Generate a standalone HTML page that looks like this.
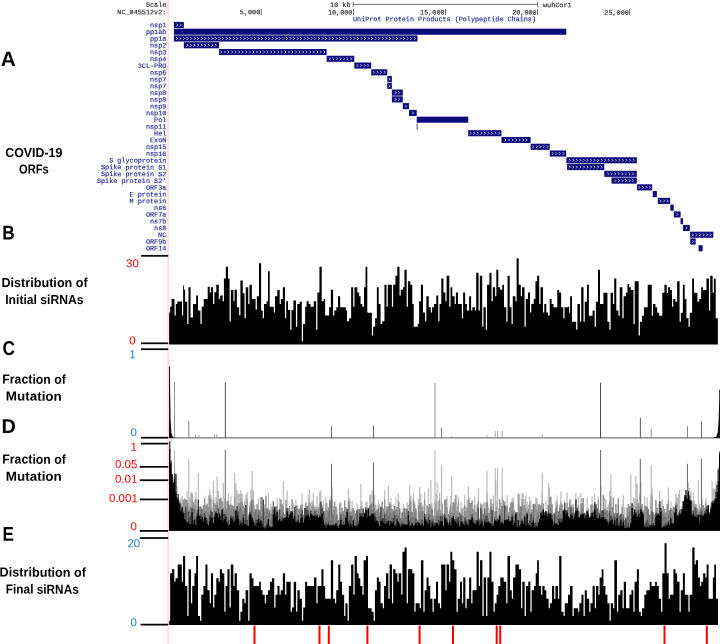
<!DOCTYPE html>
<html lang="en"><head><meta charset="utf-8"><title>COVID-19 siRNA figure</title>
<style>html,body{margin:0;padding:0;background:#fff}body{width:720px;height:644px;overflow:hidden}svg{display:block}.lb{font-family:"Liberation Sans",sans-serif;font-weight:bold;fill:#000}.nm{font-family:"Liberation Sans",sans-serif;font-weight:normal}.mono{font-family:"Liberation Mono",monospace;stroke-width:0.12}</style></head><body>
<svg width="720" height="644" viewBox="0 0 720 644">
<rect width="720" height="644" fill="#fff"/>
<rect x="167.5" y="0" width="1.2" height="644" fill="#ffd0d6"/>
<text transform="matrix(1,0.001,0,1,0,0)" x="166.3" y="6.6" class="mono" font-size="6.8" fill="#222" stroke="#222" stroke-width="0.1" text-anchor="end">Scale</text>
<text transform="matrix(1,0.001,0,1,0,0)" x="166.3" y="14.1" class="mono" font-size="6.8" fill="#222" stroke="#222" stroke-width="0.1" text-anchor="end">NC_045512v2:</text>
<text transform="matrix(1,0.001,0,1,0,0)" x="350.5" y="6.6" class="mono" font-size="6.8" fill="#222" stroke="#222" stroke-width="0.1" text-anchor="end">10 kb</text>
<path d="M353.2 4.4H537.6M353.2 1.8V7.2M537.6 1.8V7.2" stroke="#333" stroke-width="0.7" fill="none"/>
<text transform="matrix(1,0.001,0,1,0,0)" x="543.0" y="6.6" class="mono" font-size="6.8" fill="#222" stroke="#222" stroke-width="0.1">wuhCor1</text>
<text transform="matrix(1,0.001,0,1,0,0)" x="260.25" y="14.1" class="mono" font-size="6.8" fill="#222" stroke="#222" stroke-width="0.1" text-anchor="end">5,000</text>
<rect x="260.80" y="9.0" width="0.7" height="6.2" fill="#333"/>
<text transform="matrix(1,0.001,0,1,0,0)" x="352.4" y="14.1" class="mono" font-size="6.8" fill="#222" stroke="#222" stroke-width="0.1" text-anchor="end">10,000</text>
<rect x="352.95" y="9.0" width="0.7" height="6.2" fill="#333"/>
<text transform="matrix(1,0.001,0,1,0,0)" x="444.55" y="14.1" class="mono" font-size="6.8" fill="#222" stroke="#222" stroke-width="0.1" text-anchor="end">15,000</text>
<rect x="445.10" y="9.0" width="0.7" height="6.2" fill="#333"/>
<text transform="matrix(1,0.001,0,1,0,0)" x="536.6999999999999" y="14.1" class="mono" font-size="6.8" fill="#222" stroke="#222" stroke-width="0.1" text-anchor="end">20,000</text>
<rect x="537.25" y="9.0" width="0.7" height="6.2" fill="#333"/>
<text transform="matrix(1,0.001,0,1,0,0)" x="628.85" y="14.1" class="mono" font-size="6.8" fill="#222" stroke="#222" stroke-width="0.1" text-anchor="end">25,000</text>
<rect x="629.40" y="9.0" width="0.7" height="6.2" fill="#333"/>
<text transform="matrix(1,0.001,0,1,0,0)" x="353" y="20.8" class="mono" font-size="6.8" fill="#1a1a92" stroke="#1a1a92" textLength="183" lengthAdjust="spacingAndGlyphs">UniProt Protein Products (Polypeptide Chains)</text>
<defs><pattern id="chev" width="3.7" height="6" patternUnits="userSpaceOnUse" x="170.4" y="0"><path d="M1 -1.35L2.3 0L1 1.35" transform="translate(0,3)" stroke="#c8c8ee" stroke-width="0.75" fill="none"/></pattern></defs>
<text transform="matrix(1,0.001,0,1,0,0)" x="166.3" y="27.15" class="mono" font-size="6.8" fill="#1a1a92" stroke="#1a1a92" text-anchor="end">nsp1</text>
<rect x="173.90" y="21.90" width="9.93" height="6.1" fill="#0c0c7c"/>
<path d="M176.42 23.60l1.3 1.35l-1.3 1.35M179.97 23.60l1.3 1.35l-1.3 1.35" stroke="#dcdcf6" stroke-width="0.85" fill="none"/>
<text transform="matrix(1,0.001,0,1,0,0)" x="166.3" y="33.92" class="mono" font-size="6.8" fill="#1a1a92" stroke="#1a1a92" text-anchor="end">pp1ab</text>
<rect x="173.90" y="28.67" width="392.36" height="6.1" fill="#0c0c7c"/>
<text transform="matrix(1,0.001,0,1,0,0)" x="166.3" y="40.68" class="mono" font-size="6.8" fill="#1a1a92" stroke="#1a1a92" text-anchor="end">pp1a</text>
<rect x="173.90" y="35.43" width="243.59" height="6.1" fill="#0c0c7c"/>
<path d="M176.10 37.13l1.3 1.35l-1.3 1.35M179.65 37.13l1.3 1.35l-1.3 1.35M183.20 37.13l1.3 1.35l-1.3 1.35M186.75 37.13l1.3 1.35l-1.3 1.35M190.30 37.13l1.3 1.35l-1.3 1.35M193.85 37.13l1.3 1.35l-1.3 1.35M197.40 37.13l1.3 1.35l-1.3 1.35M200.95 37.13l1.3 1.35l-1.3 1.35M204.50 37.13l1.3 1.35l-1.3 1.35M208.05 37.13l1.3 1.35l-1.3 1.35M211.60 37.13l1.3 1.35l-1.3 1.35M215.15 37.13l1.3 1.35l-1.3 1.35M218.70 37.13l1.3 1.35l-1.3 1.35M222.25 37.13l1.3 1.35l-1.3 1.35M225.80 37.13l1.3 1.35l-1.3 1.35M229.35 37.13l1.3 1.35l-1.3 1.35M232.90 37.13l1.3 1.35l-1.3 1.35M236.45 37.13l1.3 1.35l-1.3 1.35M240.00 37.13l1.3 1.35l-1.3 1.35M243.55 37.13l1.3 1.35l-1.3 1.35M247.10 37.13l1.3 1.35l-1.3 1.35M250.65 37.13l1.3 1.35l-1.3 1.35M254.20 37.13l1.3 1.35l-1.3 1.35M257.75 37.13l1.3 1.35l-1.3 1.35M261.30 37.13l1.3 1.35l-1.3 1.35M264.85 37.13l1.3 1.35l-1.3 1.35M268.40 37.13l1.3 1.35l-1.3 1.35M271.95 37.13l1.3 1.35l-1.3 1.35M275.50 37.13l1.3 1.35l-1.3 1.35M279.05 37.13l1.3 1.35l-1.3 1.35M282.60 37.13l1.3 1.35l-1.3 1.35M286.15 37.13l1.3 1.35l-1.3 1.35M289.70 37.13l1.3 1.35l-1.3 1.35M293.25 37.13l1.3 1.35l-1.3 1.35M296.80 37.13l1.3 1.35l-1.3 1.35M300.35 37.13l1.3 1.35l-1.3 1.35M303.90 37.13l1.3 1.35l-1.3 1.35M307.45 37.13l1.3 1.35l-1.3 1.35M311.00 37.13l1.3 1.35l-1.3 1.35M314.55 37.13l1.3 1.35l-1.3 1.35M318.10 37.13l1.3 1.35l-1.3 1.35M321.65 37.13l1.3 1.35l-1.3 1.35M325.20 37.13l1.3 1.35l-1.3 1.35M328.75 37.13l1.3 1.35l-1.3 1.35M332.30 37.13l1.3 1.35l-1.3 1.35M335.85 37.13l1.3 1.35l-1.3 1.35M339.40 37.13l1.3 1.35l-1.3 1.35M342.95 37.13l1.3 1.35l-1.3 1.35M346.50 37.13l1.3 1.35l-1.3 1.35M350.05 37.13l1.3 1.35l-1.3 1.35M353.60 37.13l1.3 1.35l-1.3 1.35M357.15 37.13l1.3 1.35l-1.3 1.35M360.70 37.13l1.3 1.35l-1.3 1.35M364.25 37.13l1.3 1.35l-1.3 1.35M367.80 37.13l1.3 1.35l-1.3 1.35M371.35 37.13l1.3 1.35l-1.3 1.35M374.90 37.13l1.3 1.35l-1.3 1.35M378.45 37.13l1.3 1.35l-1.3 1.35M382.00 37.13l1.3 1.35l-1.3 1.35M385.55 37.13l1.3 1.35l-1.3 1.35M389.10 37.13l1.3 1.35l-1.3 1.35M392.65 37.13l1.3 1.35l-1.3 1.35M396.20 37.13l1.3 1.35l-1.3 1.35M399.75 37.13l1.3 1.35l-1.3 1.35M403.30 37.13l1.3 1.35l-1.3 1.35M406.85 37.13l1.3 1.35l-1.3 1.35M410.40 37.13l1.3 1.35l-1.3 1.35M413.95 37.13l1.3 1.35l-1.3 1.35" stroke="#dcdcf6" stroke-width="0.85" fill="none"/>
<text transform="matrix(1,0.001,0,1,0,0)" x="166.3" y="47.45" class="mono" font-size="6.8" fill="#1a1a92" stroke="#1a1a92" text-anchor="end">nsp2</text>
<rect x="183.85" y="42.20" width="35.26" height="6.1" fill="#0c0c7c"/>
<path d="M186.61 43.90l1.3 1.35l-1.3 1.35M190.16 43.90l1.3 1.35l-1.3 1.35M193.71 43.90l1.3 1.35l-1.3 1.35M197.26 43.90l1.3 1.35l-1.3 1.35M200.81 43.90l1.3 1.35l-1.3 1.35M204.36 43.90l1.3 1.35l-1.3 1.35M207.91 43.90l1.3 1.35l-1.3 1.35M211.46 43.90l1.3 1.35l-1.3 1.35M215.01 43.90l1.3 1.35l-1.3 1.35" stroke="#dcdcf6" stroke-width="0.85" fill="none"/>
<text transform="matrix(1,0.001,0,1,0,0)" x="166.3" y="54.22" class="mono" font-size="6.8" fill="#1a1a92" stroke="#1a1a92" text-anchor="end">nsp3</text>
<rect x="219.13" y="48.97" width="107.52" height="6.1" fill="#0c0c7c"/>
<path d="M220.74 50.67l1.3 1.35l-1.3 1.35M224.29 50.67l1.3 1.35l-1.3 1.35M227.84 50.67l1.3 1.35l-1.3 1.35M231.39 50.67l1.3 1.35l-1.3 1.35M234.94 50.67l1.3 1.35l-1.3 1.35M238.49 50.67l1.3 1.35l-1.3 1.35M242.04 50.67l1.3 1.35l-1.3 1.35M245.59 50.67l1.3 1.35l-1.3 1.35M249.14 50.67l1.3 1.35l-1.3 1.35M252.69 50.67l1.3 1.35l-1.3 1.35M256.24 50.67l1.3 1.35l-1.3 1.35M259.79 50.67l1.3 1.35l-1.3 1.35M263.34 50.67l1.3 1.35l-1.3 1.35M266.89 50.67l1.3 1.35l-1.3 1.35M270.44 50.67l1.3 1.35l-1.3 1.35M273.99 50.67l1.3 1.35l-1.3 1.35M277.54 50.67l1.3 1.35l-1.3 1.35M281.09 50.67l1.3 1.35l-1.3 1.35M284.64 50.67l1.3 1.35l-1.3 1.35M288.19 50.67l1.3 1.35l-1.3 1.35M291.74 50.67l1.3 1.35l-1.3 1.35M295.29 50.67l1.3 1.35l-1.3 1.35M298.84 50.67l1.3 1.35l-1.3 1.35M302.39 50.67l1.3 1.35l-1.3 1.35M305.94 50.67l1.3 1.35l-1.3 1.35M309.49 50.67l1.3 1.35l-1.3 1.35M313.04 50.67l1.3 1.35l-1.3 1.35M316.59 50.67l1.3 1.35l-1.3 1.35M320.14 50.67l1.3 1.35l-1.3 1.35M323.69 50.67l1.3 1.35l-1.3 1.35" stroke="#dcdcf6" stroke-width="0.85" fill="none"/>
<text transform="matrix(1,0.001,0,1,0,0)" x="166.3" y="60.98" class="mono" font-size="6.8" fill="#1a1a92" stroke="#1a1a92" text-anchor="end">nsp4</text>
<rect x="326.67" y="55.73" width="27.63" height="6.1" fill="#0c0c7c"/>
<path d="M329.16 57.43l1.3 1.35l-1.3 1.35M332.71 57.43l1.3 1.35l-1.3 1.35M336.26 57.43l1.3 1.35l-1.3 1.35M339.81 57.43l1.3 1.35l-1.3 1.35M343.36 57.43l1.3 1.35l-1.3 1.35M346.91 57.43l1.3 1.35l-1.3 1.35M350.46 57.43l1.3 1.35l-1.3 1.35" stroke="#dcdcf6" stroke-width="0.85" fill="none"/>
<text transform="matrix(1,0.001,0,1,0,0)" x="166.3" y="67.75" class="mono" font-size="6.8" fill="#1a1a92" stroke="#1a1a92" text-anchor="end">3CL-PRO</text>
<rect x="354.31" y="62.50" width="16.90" height="6.1" fill="#0c0c7c"/>
<path d="M356.76 64.20l1.3 1.35l-1.3 1.35M360.31 64.20l1.3 1.35l-1.3 1.35M363.86 64.20l1.3 1.35l-1.3 1.35M367.41 64.20l1.3 1.35l-1.3 1.35" stroke="#dcdcf6" stroke-width="0.85" fill="none"/>
<text transform="matrix(1,0.001,0,1,0,0)" x="166.3" y="74.52" class="mono" font-size="6.8" fill="#1a1a92" stroke="#1a1a92" text-anchor="end">nsp6</text>
<rect x="371.23" y="69.27" width="16.02" height="6.1" fill="#0c0c7c"/>
<path d="M373.24 70.97l1.3 1.35l-1.3 1.35M376.79 70.97l1.3 1.35l-1.3 1.35M380.34 70.97l1.3 1.35l-1.3 1.35M383.89 70.97l1.3 1.35l-1.3 1.35" stroke="#dcdcf6" stroke-width="0.85" fill="none"/>
<text transform="matrix(1,0.001,0,1,0,0)" x="166.3" y="81.29" class="mono" font-size="6.8" fill="#1a1a92" stroke="#1a1a92" text-anchor="end">nsp7</text>
<rect x="387.27" y="76.04" width="4.57" height="6.1" fill="#0c0c7c"/>
<path d="M388.88 77.74l1.3 1.35l-1.3 1.35" stroke="#dcdcf6" stroke-width="0.85" fill="none"/>
<text transform="matrix(1,0.001,0,1,0,0)" x="166.3" y="88.05" class="mono" font-size="6.8" fill="#1a1a92" stroke="#1a1a92" text-anchor="end">nsp7</text>
<rect x="387.27" y="82.80" width="4.57" height="6.1" fill="#0c0c7c"/>
<path d="M388.88 84.50l1.3 1.35l-1.3 1.35" stroke="#dcdcf6" stroke-width="0.85" fill="none"/>
<text transform="matrix(1,0.001,0,1,0,0)" x="166.3" y="94.82" class="mono" font-size="6.8" fill="#1a1a92" stroke="#1a1a92" text-anchor="end">nsp8</text>
<rect x="391.86" y="89.57" width="10.93" height="6.1" fill="#0c0c7c"/>
<path d="M394.87 91.27l1.3 1.35l-1.3 1.35M398.42 91.27l1.3 1.35l-1.3 1.35" stroke="#dcdcf6" stroke-width="0.85" fill="none"/>
<text transform="matrix(1,0.001,0,1,0,0)" x="166.3" y="101.59" class="mono" font-size="6.8" fill="#1a1a92" stroke="#1a1a92" text-anchor="end">nsp8</text>
<rect x="391.86" y="96.34" width="10.93" height="6.1" fill="#0c0c7c"/>
<path d="M394.87 98.04l1.3 1.35l-1.3 1.35M398.42 98.04l1.3 1.35l-1.3 1.35" stroke="#dcdcf6" stroke-width="0.85" fill="none"/>
<text transform="matrix(1,0.001,0,1,0,0)" x="166.3" y="108.35" class="mono" font-size="6.8" fill="#1a1a92" stroke="#1a1a92" text-anchor="end">nsp9</text>
<rect x="402.80" y="103.10" width="6.23" height="6.1" fill="#0c0c7c"/>
<path d="M405.24 104.80l1.3 1.35l-1.3 1.35" stroke="#dcdcf6" stroke-width="0.85" fill="none"/>
<text transform="matrix(1,0.001,0,1,0,0)" x="166.3" y="115.12" class="mono" font-size="6.8" fill="#1a1a92" stroke="#1a1a92" text-anchor="end">nsp10</text>
<rect x="409.05" y="109.87" width="7.67" height="6.1" fill="#0c0c7c"/>
<path d="M412.21 111.57l1.3 1.35l-1.3 1.35" stroke="#dcdcf6" stroke-width="0.85" fill="none"/>
<text transform="matrix(1,0.001,0,1,0,0)" x="166.3" y="121.89" class="mono" font-size="6.8" fill="#1a1a92" stroke="#1a1a92" text-anchor="end">Pol</text>
<rect x="416.74" y="116.64" width="51.49" height="6.1" fill="#0c0c7c"/>
<text transform="matrix(1,0.001,0,1,0,0)" x="166.3" y="128.66" class="mono" font-size="6.8" fill="#1a1a92" stroke="#1a1a92" text-anchor="end">nsp11</text>
<rect x="416.74" y="123.41" width="0.80" height="6.1" fill="#0c0c7c"/>
<text transform="matrix(1,0.001,0,1,0,0)" x="166.3" y="135.42" class="mono" font-size="6.8" fill="#1a1a92" stroke="#1a1a92" text-anchor="end">Hel</text>
<rect x="468.25" y="130.17" width="33.21" height="6.1" fill="#0c0c7c"/>
<path d="M469.98 131.87l1.3 1.35l-1.3 1.35M473.53 131.87l1.3 1.35l-1.3 1.35M477.08 131.87l1.3 1.35l-1.3 1.35M480.63 131.87l1.3 1.35l-1.3 1.35M484.18 131.87l1.3 1.35l-1.3 1.35M487.73 131.87l1.3 1.35l-1.3 1.35M491.28 131.87l1.3 1.35l-1.3 1.35M494.83 131.87l1.3 1.35l-1.3 1.35M498.38 131.87l1.3 1.35l-1.3 1.35" stroke="#dcdcf6" stroke-width="0.85" fill="none"/>
<text transform="matrix(1,0.001,0,1,0,0)" x="166.3" y="142.19" class="mono" font-size="6.8" fill="#1a1a92" stroke="#1a1a92" text-anchor="end">ExoN</text>
<rect x="501.48" y="136.94" width="29.12" height="6.1" fill="#0c0c7c"/>
<path d="M504.71 138.64l1.3 1.35l-1.3 1.35M508.26 138.64l1.3 1.35l-1.3 1.35M511.81 138.64l1.3 1.35l-1.3 1.35M515.36 138.64l1.3 1.35l-1.3 1.35M518.91 138.64l1.3 1.35l-1.3 1.35M522.46 138.64l1.3 1.35l-1.3 1.35M526.01 138.64l1.3 1.35l-1.3 1.35" stroke="#dcdcf6" stroke-width="0.85" fill="none"/>
<text transform="matrix(1,0.001,0,1,0,0)" x="166.3" y="148.96" class="mono" font-size="6.8" fill="#1a1a92" stroke="#1a1a92" text-anchor="end">nsp15</text>
<rect x="530.62" y="143.71" width="19.11" height="6.1" fill="#0c0c7c"/>
<path d="M532.40 145.41l1.3 1.35l-1.3 1.35M535.95 145.41l1.3 1.35l-1.3 1.35M539.50 145.41l1.3 1.35l-1.3 1.35M543.05 145.41l1.3 1.35l-1.3 1.35M546.60 145.41l1.3 1.35l-1.3 1.35" stroke="#dcdcf6" stroke-width="0.85" fill="none"/>
<text transform="matrix(1,0.001,0,1,0,0)" x="166.3" y="155.72" class="mono" font-size="6.8" fill="#1a1a92" stroke="#1a1a92" text-anchor="end">nsp16</text>
<rect x="549.75" y="150.47" width="16.46" height="6.1" fill="#0c0c7c"/>
<path d="M551.97 152.17l1.3 1.35l-1.3 1.35M555.52 152.17l1.3 1.35l-1.3 1.35M559.07 152.17l1.3 1.35l-1.3 1.35M562.62 152.17l1.3 1.35l-1.3 1.35" stroke="#dcdcf6" stroke-width="0.85" fill="none"/>
<text transform="matrix(1,0.001,0,1,0,0)" x="166.3" y="162.49" class="mono" font-size="6.8" fill="#1a1a92" stroke="#1a1a92" text-anchor="end">S glycoprotein</text>
<rect x="566.41" y="157.24" width="70.42" height="6.1" fill="#0c0c7c"/>
<path d="M568.99 158.94l1.3 1.35l-1.3 1.35M572.54 158.94l1.3 1.35l-1.3 1.35M576.09 158.94l1.3 1.35l-1.3 1.35M579.64 158.94l1.3 1.35l-1.3 1.35M583.19 158.94l1.3 1.35l-1.3 1.35M586.74 158.94l1.3 1.35l-1.3 1.35M590.29 158.94l1.3 1.35l-1.3 1.35M593.84 158.94l1.3 1.35l-1.3 1.35M597.39 158.94l1.3 1.35l-1.3 1.35M600.94 158.94l1.3 1.35l-1.3 1.35M604.49 158.94l1.3 1.35l-1.3 1.35M608.04 158.94l1.3 1.35l-1.3 1.35M611.59 158.94l1.3 1.35l-1.3 1.35M615.14 158.94l1.3 1.35l-1.3 1.35M618.69 158.94l1.3 1.35l-1.3 1.35M622.24 158.94l1.3 1.35l-1.3 1.35M625.79 158.94l1.3 1.35l-1.3 1.35M629.34 158.94l1.3 1.35l-1.3 1.35M632.89 158.94l1.3 1.35l-1.3 1.35" stroke="#dcdcf6" stroke-width="0.85" fill="none"/>
<text transform="matrix(1,0.001,0,1,0,0)" x="166.3" y="169.26" class="mono" font-size="6.8" fill="#1a1a92" stroke="#1a1a92" text-anchor="end">Spike protein S1</text>
<rect x="567.07" y="164.01" width="37.19" height="6.1" fill="#0c0c7c"/>
<path d="M569.02 165.71l1.3 1.35l-1.3 1.35M572.57 165.71l1.3 1.35l-1.3 1.35M576.12 165.71l1.3 1.35l-1.3 1.35M579.67 165.71l1.3 1.35l-1.3 1.35M583.22 165.71l1.3 1.35l-1.3 1.35M586.77 165.71l1.3 1.35l-1.3 1.35M590.32 165.71l1.3 1.35l-1.3 1.35M593.87 165.71l1.3 1.35l-1.3 1.35M597.42 165.71l1.3 1.35l-1.3 1.35M600.97 165.71l1.3 1.35l-1.3 1.35" stroke="#dcdcf6" stroke-width="0.85" fill="none"/>
<text transform="matrix(1,0.001,0,1,0,0)" x="166.3" y="176.02" class="mono" font-size="6.8" fill="#1a1a92" stroke="#1a1a92" text-anchor="end">Spike protein S2</text>
<rect x="604.28" y="170.77" width="32.49" height="6.1" fill="#0c0c7c"/>
<path d="M607.43 172.47l1.3 1.35l-1.3 1.35M610.98 172.47l1.3 1.35l-1.3 1.35M614.53 172.47l1.3 1.35l-1.3 1.35M618.08 172.47l1.3 1.35l-1.3 1.35M621.63 172.47l1.3 1.35l-1.3 1.35M625.18 172.47l1.3 1.35l-1.3 1.35M628.73 172.47l1.3 1.35l-1.3 1.35M632.28 172.47l1.3 1.35l-1.3 1.35" stroke="#dcdcf6" stroke-width="0.85" fill="none"/>
<text transform="matrix(1,0.001,0,1,0,0)" x="166.3" y="182.79" class="mono" font-size="6.8" fill="#1a1a92" stroke="#1a1a92" text-anchor="end">Spike protein S2'</text>
<rect x="611.52" y="177.54" width="25.25" height="6.1" fill="#0c0c7c"/>
<path d="M614.60 179.24l1.3 1.35l-1.3 1.35M618.15 179.24l1.3 1.35l-1.3 1.35M621.70 179.24l1.3 1.35l-1.3 1.35M625.25 179.24l1.3 1.35l-1.3 1.35M628.80 179.24l1.3 1.35l-1.3 1.35M632.35 179.24l1.3 1.35l-1.3 1.35" stroke="#dcdcf6" stroke-width="0.85" fill="none"/>
<text transform="matrix(1,0.001,0,1,0,0)" x="166.3" y="189.56" class="mono" font-size="6.8" fill="#1a1a92" stroke="#1a1a92" text-anchor="end">ORF3a</text>
<rect x="636.99" y="184.31" width="15.24" height="6.1" fill="#0c0c7c"/>
<path d="M638.61 186.01l1.3 1.35l-1.3 1.35M642.16 186.01l1.3 1.35l-1.3 1.35M645.71 186.01l1.3 1.35l-1.3 1.35M649.26 186.01l1.3 1.35l-1.3 1.35" stroke="#dcdcf6" stroke-width="0.85" fill="none"/>
<text transform="matrix(1,0.001,0,1,0,0)" x="166.3" y="196.32" class="mono" font-size="6.8" fill="#1a1a92" stroke="#1a1a92" text-anchor="end">E protein</text>
<rect x="652.70" y="191.07" width="4.18" height="6.1" fill="#0c0c7c"/>
<text transform="matrix(1,0.001,0,1,0,0)" x="166.3" y="203.09" class="mono" font-size="6.8" fill="#1a1a92" stroke="#1a1a92" text-anchor="end">M protein</text>
<rect x="657.82" y="197.84" width="12.31" height="6.1" fill="#0c0c7c"/>
<path d="M659.75 199.54l1.3 1.35l-1.3 1.35M663.30 199.54l1.3 1.35l-1.3 1.35M666.85 199.54l1.3 1.35l-1.3 1.35" stroke="#dcdcf6" stroke-width="0.85" fill="none"/>
<text transform="matrix(1,0.001,0,1,0,0)" x="166.3" y="209.86" class="mono" font-size="6.8" fill="#1a1a92" stroke="#1a1a92" text-anchor="end">ns6</text>
<rect x="670.33" y="204.61" width="3.41" height="6.1" fill="#0c0c7c"/>
<text transform="matrix(1,0.001,0,1,0,0)" x="166.3" y="216.63" class="mono" font-size="6.8" fill="#1a1a92" stroke="#1a1a92" text-anchor="end">ORF7a</text>
<rect x="673.87" y="211.38" width="6.73" height="6.1" fill="#0c0c7c"/>
<path d="M676.56 213.08l1.3 1.35l-1.3 1.35" stroke="#dcdcf6" stroke-width="0.85" fill="none"/>
<text transform="matrix(1,0.001,0,1,0,0)" x="166.3" y="223.39" class="mono" font-size="6.8" fill="#1a1a92" stroke="#1a1a92" text-anchor="end">ns7b</text>
<rect x="680.54" y="218.14" width="2.41" height="6.1" fill="#0c0c7c"/>
<text transform="matrix(1,0.001,0,1,0,0)" x="166.3" y="230.16" class="mono" font-size="6.8" fill="#1a1a92" stroke="#1a1a92" text-anchor="end">ns8</text>
<rect x="683.09" y="224.91" width="6.73" height="6.1" fill="#0c0c7c"/>
<path d="M685.77 226.61l1.3 1.35l-1.3 1.35" stroke="#dcdcf6" stroke-width="0.85" fill="none"/>
<text transform="matrix(1,0.001,0,1,0,0)" x="166.3" y="236.93" class="mono" font-size="6.8" fill="#1a1a92" stroke="#1a1a92" text-anchor="end">NC</text>
<rect x="690.09" y="231.68" width="23.20" height="6.1" fill="#0c0c7c"/>
<path d="M692.14 233.38l1.3 1.35l-1.3 1.35M695.69 233.38l1.3 1.35l-1.3 1.35M699.24 233.38l1.3 1.35l-1.3 1.35M702.79 233.38l1.3 1.35l-1.3 1.35M706.34 233.38l1.3 1.35l-1.3 1.35M709.89 233.38l1.3 1.35l-1.3 1.35" stroke="#dcdcf6" stroke-width="0.85" fill="none"/>
<text transform="matrix(1,0.001,0,1,0,0)" x="166.3" y="243.69" class="mono" font-size="6.8" fill="#1a1a92" stroke="#1a1a92" text-anchor="end">ORF9b</text>
<rect x="690.27" y="238.44" width="5.40" height="6.1" fill="#0c0c7c"/>
<path d="M692.30 240.14l1.3 1.35l-1.3 1.35" stroke="#dcdcf6" stroke-width="0.85" fill="none"/>
<text transform="matrix(1,0.001,0,1,0,0)" x="166.3" y="250.46" class="mono" font-size="6.8" fill="#1a1a92" stroke="#1a1a92" text-anchor="end">ORF14</text>
<rect x="698.57" y="245.21" width="4.07" height="6.1" fill="#0c0c7c"/>
<text transform="matrix(1,0.001,0,1,0,0)" x="0.8" y="66.1" class="lb" font-size="20.6" textLength="15" lengthAdjust="spacingAndGlyphs">A</text>
<text transform="matrix(1,0.001,0,1,0,0)" x="2.2" y="239.4" class="lb" font-size="20" textLength="12.4" lengthAdjust="spacingAndGlyphs">B</text>
<text transform="matrix(1,0.001,0,1,0,0)" x="2.4" y="355.0" class="lb" font-size="20" textLength="12.4" lengthAdjust="spacingAndGlyphs">C</text>
<text transform="matrix(1,0.001,0,1,0,0)" x="1.6" y="433.0" class="lb" font-size="20" textLength="14.4" lengthAdjust="spacingAndGlyphs">D</text>
<text transform="matrix(1,0.001,0,1,0,0)" x="2.6" y="540.8" class="lb" font-size="20" textLength="11.4" lengthAdjust="spacingAndGlyphs">E</text>
<text transform="matrix(1,0.001,0,1,0,0)" x="5.2" y="156.9" class="lb" font-size="13" textLength="57.2" lengthAdjust="spacingAndGlyphs">COVID-19</text>
<text transform="matrix(1,0.001,0,1,0,0)" x="19.0" y="173.5" class="lb" font-size="13" textLength="29.8" lengthAdjust="spacingAndGlyphs">ORFs</text>
<text transform="matrix(1,0.001,0,1,0,0)" x="1.4" y="287.0" class="lb" font-size="13" textLength="86.4" lengthAdjust="spacingAndGlyphs">Distribution of</text>
<text transform="matrix(1,0.001,0,1,0,0)" x="5.2" y="304.0" class="lb" font-size="13" textLength="78.4" lengthAdjust="spacingAndGlyphs">Initial siRNAs</text>
<text transform="matrix(1,0.001,0,1,0,0)" x="2.2" y="383.6" class="lb" font-size="13" textLength="63.8" lengthAdjust="spacingAndGlyphs">Fraction of</text>
<text transform="matrix(1,0.001,0,1,0,0)" x="5.8" y="400.6" class="lb" font-size="13" textLength="56.0" lengthAdjust="spacingAndGlyphs">Mutation</text>
<text transform="matrix(1,0.001,0,1,0,0)" x="2.2" y="463.6" class="lb" font-size="13" textLength="63.8" lengthAdjust="spacingAndGlyphs">Fraction of</text>
<text transform="matrix(1,0.001,0,1,0,0)" x="5.8" y="480.8" class="lb" font-size="13" textLength="56.0" lengthAdjust="spacingAndGlyphs">Mutation</text>
<text transform="matrix(1,0.001,0,1,0,0)" x="-0.4" y="576.6" class="lb" font-size="13" textLength="86.4" lengthAdjust="spacingAndGlyphs">Distribution of</text>
<text transform="matrix(1,0.001,0,1,0,0)" x="5.8" y="593.6" class="lb" font-size="13" textLength="73.0" lengthAdjust="spacingAndGlyphs">Final siRNAs</text>
<text transform="matrix(1,0.001,0,1,0,0)" x="138.9" y="267.0" class="nm" font-size="11.5" fill="#ff0000" text-anchor="end">30</text>
<text transform="matrix(1,0.001,0,1,0,0)" x="135.6" y="344.4" class="nm" font-size="11.5" fill="#ff0000" text-anchor="end">0</text>
<text transform="matrix(1,0.001,0,1,0,0)" x="135.6" y="358.0" class="nm" font-size="11.5" fill="#1f78c8" text-anchor="end">1</text>
<text transform="matrix(1,0.001,0,1,0,0)" x="137.0" y="436.0" class="nm" font-size="11.5" fill="#1f78c8" text-anchor="end">0</text>
<text transform="matrix(1,0.001,0,1,0,0)" x="137.0" y="450.6" class="nm" font-size="11.5" fill="#ff0000" text-anchor="end">1</text>
<text transform="matrix(1,0.001,0,1,0,0)" x="137.4" y="468.0" class="nm" font-size="11.5" fill="#ff0000" text-anchor="end">0.05</text>
<text transform="matrix(1,0.001,0,1,0,0)" x="137.4" y="482.7" class="nm" font-size="11.5" fill="#ff0000" text-anchor="end">0.01</text>
<text transform="matrix(1,0.001,0,1,0,0)" x="137.8" y="502.0" class="nm" font-size="11.5" fill="#ff0000" text-anchor="end">0.001</text>
<text transform="matrix(1,0.001,0,1,0,0)" x="137.0" y="530.0" class="nm" font-size="11.5" fill="#ff0000" text-anchor="end">0</text>
<text transform="matrix(1,0.001,0,1,0,0)" x="140.2" y="547.0" class="nm" font-size="11.5" fill="#1f78c8" text-anchor="end">20</text>
<text transform="matrix(1,0.001,0,1,0,0)" x="137.0" y="626.0" class="nm" font-size="11.5" fill="#1f78c8" text-anchor="end">0</text>
<rect x="141.2" y="254.94" width="27.00" height="1.75" fill="#000"/>
<rect x="141.0" y="342.44" width="27.20" height="1.75" fill="#000"/>
<rect x="141.0" y="348.35" width="27.20" height="1.75" fill="#000"/>
<rect x="141.0" y="436.85" width="27.20" height="1.75" fill="#000"/>
<rect x="141.0" y="442.75" width="27.20" height="1.75" fill="#000"/>
<rect x="139.8" y="465.94" width="28.40" height="1.75" fill="#000"/>
<rect x="139.8" y="479.35" width="28.40" height="1.75" fill="#000"/>
<rect x="139.8" y="498.55" width="28.40" height="1.75" fill="#000"/>
<rect x="139.8" y="530.04" width="28.40" height="1.75" fill="#000"/>
<rect x="139.8" y="537.14" width="28.40" height="1.75" fill="#000"/>
<rect x="140.5" y="623.75" width="27.70" height="1.75" fill="#000"/>
<path d="M169.14 344.40V312.57H170.14V306.86H171.57V299.00H174.52V315.43H175.77V304.00H177.29V301.43H182.00V315.43H183.14V285.43H184.00V289.71H185.14V301.86H187.23V324.00H188.48V287.14H190.57V317.57H193.00V304.00H196.14V295.43H198.00V310.43H200.45V324.00H201.70V306.86H203.71V299.00H207.71V286.86H209.80V292.57H211.05V287.14H213.09V304.00H214.34V292.29H216.29V284.71H218.80V299.00H220.05V295.43H222.66V301.14H223.91V278.57H225.86V266.86H228.00V278.57H229.59V321.14H230.84V290.00H233.43V301.14H234.57V289.71H236.86V307.14H239.16V315.43H240.41V280.43H242.71V293.29H244.52V318.29H245.77V287.14H248.23V304.00H249.48V284.71H251.86V299.00H255.59V309.71H256.84V296.14H259.00V263.29H261.14V310.43H262.73V318.29H263.98V304.00H266.57V301.14H268.00V271.14H269.71V306.86H273.80V312.57H275.05V296.14H277.29V290.00H279.66V304.00H280.91V299.00H282.86V287.14H284.95V318.29H286.20V301.14H288.00V310.00H290.23V329.71H291.48V310.00H293.43V300.43H295.95V326.86H297.20V304.00H299.71V301.86H301.80V341.14H303.05V324.00H305.14V306.86H306.57V301.14H308.71V304.00H310.57V306.86H313.71V301.14H316.16V329.71H317.41V292.57H319.43V266.86H321.71V301.14H323.71V299.00H325.14V315.43H329.14V307.14H330.86V289.71H333.09V315.43H334.34V310.43H336.29V307.14H338.00V296.14H340.14V307.14H345.86V310.43H347.00V321.14H349.14V318.29H351.14V287.14H353.23V306.86H354.48V287.14H357.29V292.57H359.14V296.14H360.57V304.00H362.29V306.86H364.00V287.14H365.57V266.86H367.29V312.57H368.00V312.86H371.88V335.43H373.12V326.86H375.14V318.29H376.86V287.14H378.71V304.00H380.57V324.00H382.29V321.14H384.43V284.71H386.52V306.86H387.77V284.71H391.88V306.86H393.12V284.71H395.43V275.71H397.29V266.86H399.52V295.43H400.77V289.71H403.00V287.14H404.43V269.71H406.66V306.86H407.91V281.14H410.29V284.71H412.29V304.00H413.71V326.86H417.71V324.00H419.14V301.14H420.86V284.71H423.00V312.57H425.09V321.14H426.34V296.14H428.71V307.14H430.80V312.57H432.05V307.14H434.00V304.00H436.29V295.43H438.23V321.14H439.48V304.00H441.29V278.57H443.43V292.57H445.38V301.14H446.62V275.71H449.30V306.86H450.55V287.14H452.29V296.14H454.66V304.00H455.91V292.57H458.00V304.00H461.88V318.29H463.12V292.57H465.14V304.00H466.86V310.43H468.00V310.43H469.14V296.14H471.09V310.43H472.34V307.14H474.95V310.43H476.20V272.86H478.59V310.43H479.84V275.71H482.23V326.86H483.48V307.14H485.80V329.71H487.05V284.71H489.43V272.86H491.52V301.14H492.77V287.14H495.09V296.14H496.34V269.71H498.29V287.14H500.14V289.71H502.29V284.71H504.00V307.14H506.30V321.86H507.55V275.71H509.71V307.14H511.52V324.00H512.77V296.14H515.38V301.14H516.62V258.29H518.71V284.71H520.80V296.14H522.05V287.14H524.52V326.86H525.77V299.00H528.00V292.57H530.02V312.57H531.27V304.00H533.71V299.00H535.43V281.14H537.14V275.71H539.23V304.00H540.48V287.14H543.02V312.57H544.27V304.00H546.29V312.57H548.00V315.43H549.71V299.00H551.57V304.00H553.43V307.14H557.29V290.00H559.14V292.57H561.14V307.14H563.30V318.29H564.55V307.14H568.00V306.86H569.14V312.86H570.14V296.14H572.00V321.86H576.16V329.71H577.41V304.00H579.95V321.86H581.20V287.14H583.52V321.86H584.77V301.86H587.00V284.71H588.86V315.71H592.57V310.43H594.66V326.86H595.91V301.86H598.00V269.71H600.00V304.00H603.43V292.86H607.43V321.86H609.38V329.71H610.62V292.86H612.95V304.00H614.20V278.57H616.29V310.43H618.45V315.71H619.70V287.14H622.38V318.29H623.62V296.14H625.86V292.57H627.43V284.00H629.14V287.14H630.86V290.00H633.45V324.00H634.70V281.14H638.66V335.43H639.91V321.86H642.00V315.71H644.00V307.14H647.71V284.71H651.80V315.71H653.05V304.00H655.43V307.14H657.14V312.86H659.14V315.71H662.29V292.86H664.43V284.71H666.73V292.86H667.98V287.14H670.00V290.00H672.02V306.86H673.27V299.00H675.43V301.86H677.14V281.14H679.59V321.86H680.84V312.86H682.86V284.71H684.71V299.00H686.43V318.29H688.52V326.86H689.77V312.86H692.14V278.57H694.00V292.86H697.43V301.86H699.29V299.00H701.14V287.14H702.86V290.00H706.43V278.57H708.95V310.43H710.20V275.71H712.66V292.86H713.91V278.57H715.71V318.29H717.86V344.40Z" fill="#000"/>
<path d="M169.14 625.00V620.80H170.14V573.14H172.00V569.14H174.30V581.71H175.55V578.14H177.71V564.57H181.80V581.71H183.05V556.00H185.14V586.00H187.30V616.00H188.55V569.14H190.95V603.14H192.20V586.00H194.43V573.14H196.14V556.00H198.00V616.00H200.02V620.80H201.27V594.86H203.43V586.00H205.43V564.57H207.43V590.29H209.66V603.14H210.91V573.14H213.09V607.43H214.34V594.86H216.29V578.14H218.59V581.71H219.84V569.14H222.00V573.14H224.30V611.71H225.55V586.00H227.43V569.14H229.52V607.43H230.77V564.57H233.38V586.00H234.62V573.14H236.86V590.29H239.16V620.80H240.41V611.71H242.29V598.86H244.38V603.14H245.62V590.29H248.23V620.80H249.48V573.14H251.71V578.14H253.43V586.00H259.14V581.71H260.86V590.29H262.57V594.86H264.80V603.14H266.05V594.86H268.00V590.29H270.00V581.71H272.00V578.14H274.23V607.43H275.48V594.86H277.43V586.00H279.52V594.86H280.77V590.29H282.86V573.14H285.09V594.86H286.34V581.71H290.66V611.71H291.91V607.43H293.71V581.71H296.09V611.71H297.34V590.29H299.71V598.86H301.95V620.80H303.20V607.43H305.14V581.71H307.14V586.00H314.00V577.43H316.38V603.14H317.62V586.00H321.43V569.14H323.43V586.00H325.14V598.86H330.86V560.29H333.14V598.86H334.95V603.14H336.20V590.29H338.29V564.57H340.29V581.71H342.00V594.86H344.16V616.00H345.41V603.14H347.59V620.80H348.84V586.00H351.14V564.57H353.38V594.86H354.62V556.00H356.86V573.14H358.57V578.14H360.29V586.00H362.38V594.86H363.62V560.29H366.00V556.00H368.00V608.14H371.71V611.71H373.66V620.80H374.91V590.29H376.86V577.43H378.86V581.71H380.57V603.14H382.80V608.14H384.05V586.00H386.00V573.14H388.38V598.86H389.62V564.57H391.95V603.14H393.20V569.14H395.43V573.14H397.38V581.71H398.62V573.14H401.23V594.86H402.48V551.71H404.57V547.43H406.66V603.14H407.91V569.14H412.29V573.14H414.38V611.71H415.62V603.14H419.66V608.14H420.91V560.29H423.38V611.71H424.62V590.29H426.57V577.43H428.57V586.00H430.29V598.86H432.52V611.71H433.77V598.86H436.00V581.71H438.00V603.14H439.95V608.14H441.20V564.57H445.38V590.29H446.62V564.57H449.09V581.71H450.34V551.71H452.29V560.29H454.29V569.14H456.52V611.71H457.77V598.86H460.00V581.71H461.95V603.14H463.20V577.43H465.38V608.14H466.62V598.86H468.00V598.86H469.14V577.43H471.23V603.14H472.48V590.29H476.57V551.71H478.80V586.00H480.05V560.29H482.38V616.00H483.62V577.43H486.09V616.00H487.34V577.43H489.43V551.71H491.43V581.71H493.52V611.71H494.77V603.14H496.57V594.86H498.29V586.00H500.29V577.43H503.71V581.71H506.23V603.14H507.48V556.00H510.00V590.29H511.80V598.86H513.05V577.43H515.43V564.57H518.86V569.14H521.09V608.14H522.34V581.71H524.66V616.00H525.91V586.00H528.29V581.71H530.38V611.71H531.62V590.29H534.00V586.00H535.71V573.14H537.14V560.29H538.86V586.00H541.09V594.86H542.34V586.00H544.57V590.29H546.29V598.86H548.66V608.14H549.91V603.14H552.00V586.00H554.23V598.86H555.48V586.00H557.95V598.86H559.20V556.00H561.43V611.71H563.52V616.00H564.77V603.14H568.00V594.86H570.00V586.00H572.52V616.00H573.77V608.14H578.09V611.71H579.34V603.14H581.43V594.86H583.52V616.00H584.77V590.29H586.86V598.86H589.23V611.71H590.48V603.14H592.57V586.00H594.80V608.14H596.05V586.00H598.38V594.86H599.62V577.43H601.71V569.14H603.43V586.00H605.43V594.86H607.43V603.14H609.52V620.80H610.77V603.14H613.09V608.14H614.34V560.29H616.95V611.71H618.20V594.86H620.29V590.29H622.52V608.14H623.77V581.71H626.00V608.14H629.43V594.86H631.43V590.29H633.38V611.71H634.62V581.71H636.86V569.14H638.86V611.71H640.80V616.00H642.05V608.14H644.29V594.86H646.29V590.29H649.71V581.71H651.43V586.00H655.14V581.71H656.86V586.00H658.86V598.86H661.09V611.71H662.34V573.14H664.57V543.14H666.57V573.14H668.66V598.86H669.91V594.86H673.43V569.14H675.43V573.14H677.14V581.71H679.52V611.71H680.77V590.29H682.86V573.14H684.86V594.86H688.38V611.71H689.62V594.86H692.29V547.43H694.52V564.57H695.77V560.29H698.00V577.43H699.95V586.00H701.20V581.71H703.14V573.14H705.38V577.43H706.62V564.57H708.57V598.86H712.86V577.43H714.29V564.57H716.00V598.86H718.00V625.00Z" fill="#000"/>
<rect x="169" y="437.45" width="551" height="0.9" fill="#444"/>
<rect x="174.00" y="382.00" width="0.8" height="55.90" fill="#777"/>
<rect x="188.40" y="420.80" width="0.8" height="17.10" fill="#666"/>
<rect x="195.00" y="435.00" width="0.8" height="2.90" fill="#888"/>
<rect x="198.50" y="435.00" width="0.8" height="2.90" fill="#888"/>
<rect x="214.10" y="434.50" width="0.8" height="3.40" fill="#888"/>
<rect x="216.40" y="434.50" width="0.8" height="3.40" fill="#888"/>
<rect x="224.90" y="382.30" width="0.8" height="55.60" fill="#222"/>
<rect x="331.10" y="426.30" width="0.8" height="11.60" fill="#444"/>
<rect x="373.10" y="425.50" width="0.8" height="12.40" fill="#444"/>
<rect x="434.60" y="383.00" width="0.8" height="54.90" fill="#777"/>
<rect x="441.20" y="427.80" width="0.8" height="10.10" fill="#666"/>
<rect x="451.30" y="436.00" width="0.8" height="1.90" fill="#999"/>
<rect x="486.60" y="435.00" width="0.8" height="2.90" fill="#999"/>
<rect x="494.80" y="431.00" width="0.8" height="6.90" fill="#999"/>
<rect x="497.20" y="431.00" width="0.8" height="6.90" fill="#999"/>
<rect x="501.80" y="430.60" width="0.8" height="7.30" fill="#999"/>
<rect x="541.90" y="434.00" width="0.8" height="3.90" fill="#999"/>
<rect x="600.20" y="382.70" width="0.8" height="55.20" fill="#222"/>
<rect x="639.90" y="417.70" width="0.8" height="20.20" fill="#333"/>
<rect x="650.80" y="428.60" width="0.8" height="9.30" fill="#777"/>
<rect x="687.00" y="426.30" width="0.8" height="11.60" fill="#666"/>
<rect x="701.00" y="421.20" width="0.8" height="16.70" fill="#444"/>
<path d="M169 437.9V366.4H170V380L170.6 420L171.4 433L173 437.29999999999995L176 437.9Z" fill="#111"/>
<path d="M720 437.9V389.7H719.2V400L718.6 420L717.8 432L716 437.09999999999997L712 437.9Z" fill="#111"/>
<path d="M169.00 530.8V466.8h1.25V530.8ZM170.25 530.8V466.8h1.25V530.8ZM171.50 530.8V474.4h1.25V530.8ZM172.75 530.8V477.3h1.25V530.8ZM174.00 530.8V466.8h1.25V530.8ZM175.25 530.8V474.0h1.25V530.8ZM176.50 530.8V486.1h1.25V530.8ZM177.75 530.8V494.0h1.25V530.8ZM179.00 530.8V500.4h1.25V530.8ZM180.25 530.8V498.1h1.25V530.8ZM181.50 530.8V495.7h1.25V530.8ZM182.75 530.8V499.6h1.25V530.8ZM184.00 530.8V498.5h1.25V530.8ZM185.25 530.8V499.7h1.25V530.8ZM186.50 530.8V490.9h1.25V530.8ZM187.75 530.8V503.1h1.25V530.8ZM189.00 530.8V497.2h1.25V530.8ZM190.25 530.8V491.8h1.25V530.8ZM191.50 530.8V493.6h1.25V530.8ZM192.75 530.8V502.1h1.25V530.8ZM194.00 530.8V500.0h1.25V530.8ZM195.25 530.8V491.9h1.25V530.8ZM196.50 530.8V507.2h1.25V530.8ZM197.75 530.8V472.9h1.25V530.8ZM199.00 530.8V506.4h1.25V530.8ZM200.25 530.8V506.4h1.25V530.8ZM201.50 530.8V509.3h1.25V530.8ZM202.75 530.8V505.2h1.25V530.8ZM204.00 530.8V498.0h1.25V530.8ZM205.25 530.8V505.2h1.25V530.8ZM206.50 530.8V503.7h1.25V530.8ZM207.75 530.8V495.1h1.25V530.8ZM209.00 530.8V489.3h1.25V530.8ZM210.25 530.8V494.6h1.25V530.8ZM211.50 530.8V507.5h1.25V530.8ZM212.75 530.8V480.8h1.25V530.8ZM214.00 530.8V503.2h1.25V530.8ZM215.25 530.8V497.3h1.25V530.8ZM216.50 530.8V476.6h1.25V530.8ZM217.75 530.8V490.8h1.25V530.8ZM219.00 530.8V498.8h1.25V530.8ZM220.25 530.8V497.8h1.25V530.8ZM221.50 530.8V501.6h1.25V530.8ZM222.75 530.8V482.9h1.25V530.8ZM224.00 530.8V498.6h1.25V530.8ZM225.25 530.8V508.5h1.25V530.8ZM226.50 530.8V501.3h1.25V530.8ZM227.75 530.8V493.6h1.25V530.8ZM229.00 530.8V504.7h1.25V530.8ZM230.25 530.8V496.3h1.25V530.8ZM231.50 530.8V505.3h1.25V530.8ZM232.75 530.8V506.0h1.25V530.8ZM234.00 530.8V472.8h1.25V530.8ZM235.25 530.8V483.3h1.25V530.8ZM236.50 530.8V490.4h1.25V530.8ZM237.75 530.8V493.9h1.25V530.8ZM239.00 530.8V493.4h1.25V530.8ZM240.25 530.8V490.2h1.25V530.8ZM241.50 530.8V493.4h1.25V530.8ZM242.75 530.8V505.8h1.25V530.8ZM244.00 530.8V501.6h1.25V530.8ZM245.25 530.8V494.7h1.25V530.8ZM246.50 530.8V492.2h1.25V530.8ZM247.75 530.8V514.8h1.25V530.8ZM249.00 530.8V503.0h1.25V530.8ZM250.25 530.8V489.6h1.25V530.8ZM251.50 530.8V471.1h1.25V530.8ZM252.75 530.8V490.6h1.25V530.8ZM254.00 530.8V504.7h1.25V530.8ZM255.25 530.8V509.3h1.25V530.8ZM256.50 530.8V504.2h1.25V530.8ZM257.75 530.8V498.2h1.25V530.8ZM259.00 530.8V509.4h1.25V530.8ZM260.25 530.8V497.6h1.25V530.8ZM261.50 530.8V496.9h1.25V530.8ZM262.75 530.8V499.7h1.25V530.8ZM264.00 530.8V504.5h1.25V530.8ZM265.25 530.8V495.8h1.25V530.8ZM266.50 530.8V508.0h1.25V530.8ZM267.75 530.8V493.0h1.25V530.8ZM269.00 530.8V509.7h1.25V530.8ZM270.25 530.8V503.5h1.25V530.8ZM271.50 530.8V506.9h1.25V530.8ZM272.75 530.8V501.6h1.25V530.8ZM274.00 530.8V506.8h1.25V530.8ZM275.25 530.8V506.7h1.25V530.8ZM276.50 530.8V498.2h1.25V530.8ZM277.75 530.8V510.6h1.25V530.8ZM279.00 530.8V497.6h1.25V530.8ZM280.25 530.8V499.5h1.25V530.8ZM281.50 530.8V503.9h1.25V530.8ZM282.75 530.8V481.3h1.25V530.8ZM284.00 530.8V514.0h1.25V530.8ZM285.25 530.8V500.2h1.25V530.8ZM286.50 530.8V490.4h1.25V530.8ZM287.75 530.8V508.1h1.25V530.8ZM289.00 530.8V506.0h1.25V530.8ZM290.25 530.8V510.9h1.25V530.8ZM291.50 530.8V499.5h1.25V530.8ZM292.75 530.8V502.9h1.25V530.8ZM294.00 530.8V507.3h1.25V530.8ZM295.25 530.8V499.5h1.25V530.8ZM296.50 530.8V505.4h1.25V530.8ZM297.75 530.8V509.1h1.25V530.8ZM299.00 530.8V508.5h1.25V530.8ZM300.25 530.8V505.1h1.25V530.8ZM301.50 530.8V493.4h1.25V530.8ZM302.75 530.8V514.4h1.25V530.8ZM304.00 530.8V508.3h1.25V530.8ZM305.25 530.8V502.3h1.25V530.8ZM306.50 530.8V506.2h1.25V530.8ZM307.75 530.8V494.7h1.25V530.8ZM309.00 530.8V489.6h1.25V530.8ZM310.25 530.8V503.0h1.25V530.8ZM311.50 530.8V500.2h1.25V530.8ZM312.75 530.8V493.1h1.25V530.8ZM314.00 530.8V507.3h1.25V530.8ZM315.25 530.8V506.0h1.25V530.8ZM316.50 530.8V496.0h1.25V530.8ZM317.75 530.8V506.9h1.25V530.8ZM319.00 530.8V492.1h1.25V530.8ZM320.25 530.8V490.3h1.25V530.8ZM321.50 530.8V505.6h1.25V530.8ZM322.75 530.8V500.3h1.25V530.8ZM324.00 530.8V511.1h1.25V530.8ZM325.25 530.8V497.3h1.25V530.8ZM326.50 530.8V502.6h1.25V530.8ZM327.75 530.8V507.4h1.25V530.8ZM329.00 530.8V500.4h1.25V530.8ZM330.25 530.8V496.6h1.25V530.8ZM331.50 530.8V486.9h1.25V530.8ZM332.75 530.8V506.0h1.25V530.8ZM334.00 530.8V501.8h1.25V530.8ZM335.25 530.8V506.6h1.25V530.8ZM336.50 530.8V508.5h1.25V530.8ZM337.75 530.8V520.2h1.25V530.8ZM339.00 530.8V503.4h1.25V530.8ZM340.25 530.8V502.0h1.25V530.8ZM341.50 530.8V507.8h1.25V530.8ZM342.75 530.8V510.9h1.25V530.8ZM344.00 530.8V500.6h1.25V530.8ZM345.25 530.8V507.1h1.25V530.8ZM346.50 530.8V509.4h1.25V530.8ZM347.75 530.8V488.7h1.25V530.8ZM349.00 530.8V498.1h1.25V530.8ZM350.25 530.8V511.8h1.25V530.8ZM351.50 530.8V501.1h1.25V530.8ZM352.75 530.8V508.3h1.25V530.8ZM354.00 530.8V510.5h1.25V530.8ZM355.25 530.8V513.7h1.25V530.8ZM356.50 530.8V503.3h1.25V530.8ZM357.75 530.8V508.7h1.25V530.8ZM359.00 530.8V509.2h1.25V530.8ZM360.25 530.8V484.0h1.25V530.8ZM361.50 530.8V501.5h1.25V530.8ZM362.75 530.8V508.6h1.25V530.8ZM364.00 530.8V512.7h1.25V530.8ZM365.25 530.8V501.5h1.25V530.8ZM366.50 530.8V501.7h1.25V530.8ZM367.75 530.8V507.7h1.25V530.8ZM369.00 530.8V495.0h1.25V530.8ZM370.25 530.8V494.5h1.25V530.8ZM371.50 530.8V490.3h1.25V530.8ZM372.75 530.8V499.6h1.25V530.8ZM374.00 530.8V494.9h1.25V530.8ZM375.25 530.8V504.8h1.25V530.8ZM376.50 530.8V509.6h1.25V530.8ZM377.75 530.8V500.2h1.25V530.8ZM379.00 530.8V503.4h1.25V530.8ZM380.25 530.8V506.5h1.25V530.8ZM381.50 530.8V501.5h1.25V530.8ZM382.75 530.8V508.5h1.25V530.8ZM384.00 530.8V490.2h1.25V530.8ZM385.25 530.8V505.9h1.25V530.8ZM386.50 530.8V506.2h1.25V530.8ZM387.75 530.8V485.7h1.25V530.8ZM389.00 530.8V502.5h1.25V530.8ZM390.25 530.8V497.9h1.25V530.8ZM391.50 530.8V509.1h1.25V530.8ZM392.75 530.8V504.4h1.25V530.8ZM394.00 530.8V506.1h1.25V530.8ZM395.25 530.8V497.5h1.25V530.8ZM396.50 530.8V507.1h1.25V530.8ZM397.75 530.8V493.2h1.25V530.8ZM399.00 530.8V501.7h1.25V530.8ZM400.25 530.8V518.1h1.25V530.8ZM401.50 530.8V512.3h1.25V530.8ZM402.75 530.8V503.7h1.25V530.8ZM404.00 530.8V508.1h1.25V530.8ZM405.25 530.8V509.5h1.25V530.8ZM406.50 530.8V502.2h1.25V530.8ZM407.75 530.8V504.7h1.25V530.8ZM409.00 530.8V485.4h1.25V530.8ZM410.25 530.8V495.7h1.25V530.8ZM411.50 530.8V511.9h1.25V530.8ZM412.75 530.8V492.4h1.25V530.8ZM414.00 530.8V501.4h1.25V530.8ZM415.25 530.8V508.5h1.25V530.8ZM416.50 530.8V519.7h1.25V530.8ZM417.75 530.8V498.6h1.25V530.8ZM419.00 530.8V486.9h1.25V530.8ZM420.25 530.8V494.1h1.25V530.8ZM421.50 530.8V503.4h1.25V530.8ZM422.75 530.8V505.4h1.25V530.8ZM424.00 530.8V492.0h1.25V530.8ZM425.25 530.8V513.9h1.25V530.8ZM426.50 530.8V505.6h1.25V530.8ZM427.75 530.8V488.2h1.25V530.8ZM429.00 530.8V504.1h1.25V530.8ZM430.25 530.8V479.9h1.25V530.8ZM431.50 530.8V502.9h1.25V530.8ZM432.75 530.8V515.7h1.25V530.8ZM434.00 530.8V501.5h1.25V530.8ZM435.25 530.8V494.8h1.25V530.8ZM436.50 530.8V482.7h1.25V530.8ZM437.75 530.8V501.1h1.25V530.8ZM439.00 530.8V492.7h1.25V530.8ZM440.25 530.8V510.2h1.25V530.8ZM441.50 530.8V504.0h1.25V530.8ZM442.75 530.8V514.5h1.25V530.8ZM444.00 530.8V500.1h1.25V530.8ZM445.25 530.8V499.1h1.25V530.8ZM446.50 530.8V496.2h1.25V530.8ZM447.75 530.8V514.1h1.25V530.8ZM449.00 530.8V506.7h1.25V530.8ZM450.25 530.8V495.8h1.25V530.8ZM451.50 530.8V503.7h1.25V530.8ZM452.75 530.8V502.0h1.25V530.8ZM454.00 530.8V499.1h1.25V530.8ZM455.25 530.8V495.0h1.25V530.8ZM456.50 530.8V506.5h1.25V530.8ZM457.75 530.8V496.6h1.25V530.8ZM459.00 530.8V512.5h1.25V530.8ZM460.25 530.8V501.7h1.25V530.8ZM461.50 530.8V508.4h1.25V530.8ZM462.75 530.8V506.8h1.25V530.8ZM464.00 530.8V495.2h1.25V530.8ZM465.25 530.8V506.5h1.25V530.8ZM466.50 530.8V499.5h1.25V530.8ZM467.75 530.8V486.6h1.25V530.8ZM469.00 530.8V497.4h1.25V530.8ZM470.25 530.8V503.1h1.25V530.8ZM471.50 530.8V500.4h1.25V530.8ZM472.75 530.8V508.9h1.25V530.8ZM474.00 530.8V496.2h1.25V530.8ZM475.25 530.8V512.1h1.25V530.8ZM476.50 530.8V504.4h1.25V530.8ZM477.75 530.8V488.5h1.25V530.8ZM479.00 530.8V518.2h1.25V530.8ZM480.25 530.8V503.4h1.25V530.8ZM481.50 530.8V504.5h1.25V530.8ZM482.75 530.8V503.0h1.25V530.8ZM484.00 530.8V501.7h1.25V530.8ZM485.25 530.8V503.3h1.25V530.8ZM486.50 530.8V491.4h1.25V530.8ZM487.75 530.8V506.5h1.25V530.8ZM489.00 530.8V508.6h1.25V530.8ZM490.25 530.8V499.1h1.25V530.8ZM491.50 530.8V503.9h1.25V530.8ZM492.75 530.8V495.6h1.25V530.8ZM494.00 530.8V511.7h1.25V530.8ZM495.25 530.8V480.5h1.25V530.8ZM496.50 530.8V501.3h1.25V530.8ZM497.75 530.8V508.4h1.25V530.8ZM499.00 530.8V499.2h1.25V530.8ZM500.25 530.8V502.5h1.25V530.8ZM501.50 530.8V496.7h1.25V530.8ZM502.75 530.8V500.3h1.25V530.8ZM504.00 530.8V501.5h1.25V530.8ZM505.25 530.8V506.5h1.25V530.8ZM506.50 530.8V495.2h1.25V530.8ZM507.75 530.8V512.0h1.25V530.8ZM509.00 530.8V507.6h1.25V530.8ZM510.25 530.8V502.3h1.25V530.8ZM511.50 530.8V498.9h1.25V530.8ZM512.75 530.8V496.9h1.25V530.8ZM514.00 530.8V509.9h1.25V530.8ZM515.25 530.8V512.5h1.25V530.8ZM516.50 530.8V512.4h1.25V530.8ZM517.75 530.8V494.2h1.25V530.8ZM519.00 530.8V493.6h1.25V530.8ZM520.25 530.8V506.6h1.25V530.8ZM521.50 530.8V492.5h1.25V530.8ZM522.75 530.8V493.9h1.25V530.8ZM524.00 530.8V499.2h1.25V530.8ZM525.25 530.8V495.1h1.25V530.8ZM526.50 530.8V501.8h1.25V530.8ZM527.75 530.8V504.8h1.25V530.8ZM529.00 530.8V497.0h1.25V530.8ZM530.25 530.8V500.9h1.25V530.8ZM531.50 530.8V509.5h1.25V530.8ZM532.75 530.8V504.2h1.25V530.8ZM534.00 530.8V503.7h1.25V530.8ZM535.25 530.8V497.0h1.25V530.8ZM536.50 530.8V498.6h1.25V530.8ZM537.75 530.8V504.6h1.25V530.8ZM539.00 530.8V504.3h1.25V530.8ZM540.25 530.8V505.6h1.25V530.8ZM541.50 530.8V491.2h1.25V530.8ZM542.75 530.8V503.4h1.25V530.8ZM544.00 530.8V512.1h1.25V530.8ZM545.25 530.8V500.7h1.25V530.8ZM546.50 530.8V512.6h1.25V530.8ZM547.75 530.8V482.7h1.25V530.8ZM549.00 530.8V487.8h1.25V530.8ZM550.25 530.8V496.8h1.25V530.8ZM551.50 530.8V504.2h1.25V530.8ZM552.75 530.8V513.6h1.25V530.8ZM554.00 530.8V512.3h1.25V530.8ZM555.25 530.8V501.0h1.25V530.8ZM556.50 530.8V495.2h1.25V530.8ZM557.75 530.8V511.6h1.25V530.8ZM559.00 530.8V504.7h1.25V530.8ZM560.25 530.8V491.5h1.25V530.8ZM561.50 530.8V504.5h1.25V530.8ZM562.75 530.8V509.3h1.25V530.8ZM564.00 530.8V500.0h1.25V530.8ZM565.25 530.8V510.4h1.25V530.8ZM566.50 530.8V492.6h1.25V530.8ZM567.75 530.8V507.2h1.25V530.8ZM569.00 530.8V500.4h1.25V530.8ZM570.25 530.8V498.8h1.25V530.8ZM571.50 530.8V504.7h1.25V530.8ZM572.75 530.8V503.9h1.25V530.8ZM574.00 530.8V512.3h1.25V530.8ZM575.25 530.8V493.1h1.25V530.8ZM576.50 530.8V508.1h1.25V530.8ZM577.75 530.8V497.2h1.25V530.8ZM579.00 530.8V511.3h1.25V530.8ZM580.25 530.8V492.9h1.25V530.8ZM581.50 530.8V498.2h1.25V530.8ZM582.75 530.8V498.3h1.25V530.8ZM584.00 530.8V512.7h1.25V530.8ZM585.25 530.8V514.0h1.25V530.8ZM586.50 530.8V497.6h1.25V530.8ZM587.75 530.8V509.1h1.25V530.8ZM589.00 530.8V517.5h1.25V530.8ZM590.25 530.8V504.8h1.25V530.8ZM591.50 530.8V496.3h1.25V530.8ZM592.75 530.8V504.8h1.25V530.8ZM594.00 530.8V493.4h1.25V530.8ZM595.25 530.8V504.4h1.25V530.8ZM596.50 530.8V508.0h1.25V530.8ZM597.75 530.8V496.7h1.25V530.8ZM599.00 530.8V509.7h1.25V530.8ZM600.25 530.8V486.5h1.25V530.8ZM601.50 530.8V510.6h1.25V530.8ZM602.75 530.8V495.0h1.25V530.8ZM604.00 530.8V498.0h1.25V530.8ZM605.25 530.8V499.4h1.25V530.8ZM606.50 530.8V507.5h1.25V530.8ZM607.75 530.8V504.3h1.25V530.8ZM609.00 530.8V491.0h1.25V530.8ZM610.25 530.8V474.8h1.25V530.8ZM611.50 530.8V507.3h1.25V530.8ZM612.75 530.8V497.6h1.25V530.8ZM614.00 530.8V513.5h1.25V530.8ZM615.25 530.8V503.9h1.25V530.8ZM616.50 530.8V513.5h1.25V530.8ZM617.75 530.8V497.9h1.25V530.8ZM619.00 530.8V515.1h1.25V530.8ZM620.25 530.8V513.7h1.25V530.8ZM621.50 530.8V504.3h1.25V530.8ZM622.75 530.8V495.6h1.25V530.8ZM624.00 530.8V507.6h1.25V530.8ZM625.25 530.8V517.4h1.25V530.8ZM626.50 530.8V507.7h1.25V530.8ZM627.75 530.8V504.1h1.25V530.8ZM629.00 530.8V506.1h1.25V530.8ZM630.25 530.8V474.4h1.25V530.8ZM631.50 530.8V503.6h1.25V530.8ZM632.75 530.8V497.3h1.25V530.8ZM634.00 530.8V498.5h1.25V530.8ZM635.25 530.8V475.6h1.25V530.8ZM636.50 530.8V484.0h1.25V530.8ZM637.75 530.8V503.2h1.25V530.8ZM639.00 530.8V493.1h1.25V530.8ZM640.25 530.8V482.3h1.25V530.8ZM641.50 530.8V504.1h1.25V530.8ZM642.75 530.8V510.6h1.25V530.8ZM644.00 530.8V496.2h1.25V530.8ZM645.25 530.8V506.1h1.25V530.8ZM646.50 530.8V497.4h1.25V530.8ZM647.75 530.8V508.9h1.25V530.8ZM649.00 530.8V514.6h1.25V530.8ZM650.25 530.8V493.9h1.25V530.8ZM651.50 530.8V487.5h1.25V530.8ZM652.75 530.8V512.5h1.25V530.8ZM654.00 530.8V514.6h1.25V530.8ZM655.25 530.8V499.9h1.25V530.8ZM656.50 530.8V507.7h1.25V530.8ZM657.75 530.8V504.1h1.25V530.8ZM659.00 530.8V490.7h1.25V530.8ZM660.25 530.8V501.5h1.25V530.8ZM661.50 530.8V498.7h1.25V530.8ZM662.75 530.8V506.2h1.25V530.8ZM664.00 530.8V509.0h1.25V530.8ZM665.25 530.8V512.5h1.25V530.8ZM666.50 530.8V504.2h1.25V530.8ZM667.75 530.8V487.6h1.25V530.8ZM669.00 530.8V510.6h1.25V530.8ZM670.25 530.8V501.6h1.25V530.8ZM671.50 530.8V509.7h1.25V530.8ZM672.75 530.8V506.4h1.25V530.8ZM674.00 530.8V507.1h1.25V530.8ZM675.25 530.8V493.6h1.25V530.8ZM676.50 530.8V497.6h1.25V530.8ZM677.75 530.8V493.7h1.25V530.8ZM679.00 530.8V489.6h1.25V530.8ZM680.25 530.8V509.0h1.25V530.8ZM681.50 530.8V506.5h1.25V530.8ZM682.75 530.8V500.9h1.25V530.8ZM684.00 530.8V495.2h1.25V530.8ZM685.25 530.8V489.9h1.25V530.8ZM686.50 530.8V498.2h1.25V530.8ZM687.75 530.8V482.4h1.25V530.8ZM689.00 530.8V488.1h1.25V530.8ZM690.25 530.8V491.5h1.25V530.8ZM691.50 530.8V500.4h1.25V530.8ZM692.75 530.8V492.0h1.25V530.8ZM694.00 530.8V500.7h1.25V530.8ZM695.25 530.8V504.0h1.25V530.8ZM696.50 530.8V508.5h1.25V530.8ZM697.75 530.8V479.8h1.25V530.8ZM699.00 530.8V504.2h1.25V530.8ZM700.25 530.8V508.4h1.25V530.8ZM701.50 530.8V497.2h1.25V530.8ZM702.75 530.8V505.1h1.25V530.8ZM704.00 530.8V507.8h1.25V530.8ZM705.25 530.8V497.7h1.25V530.8ZM706.50 530.8V506.5h1.25V530.8ZM707.75 530.8V504.9h1.25V530.8ZM709.00 530.8V511.9h1.25V530.8ZM710.25 530.8V505.4h1.25V530.8ZM711.50 530.8V481.1h1.25V530.8ZM712.75 530.8V488.5h1.25V530.8ZM714.00 530.8V488.7h1.25V530.8ZM715.25 530.8V481.3h1.25V530.8ZM716.50 530.8V484.9h1.25V530.8ZM717.75 530.8V466.8h1.25V530.8ZM719.00 530.8V466.8h1.25V530.8Z" fill="#bebebe"/>
<path d="M169.00 530.8V441.4h1.25V530.8ZM170.25 530.8V460.4h1.25V530.8ZM171.50 530.8V474.4h1.25V530.8ZM172.75 530.8V482.7h1.25V530.8ZM174.00 530.8V473.6h1.25V530.8ZM175.25 530.8V474.0h1.25V530.8ZM176.50 530.8V497.5h1.25V530.8ZM177.75 530.8V494.0h1.25V530.8ZM179.00 530.8V500.4h1.25V530.8ZM180.25 530.8V503.6h1.25V530.8ZM181.50 530.8V506.0h1.25V530.8ZM182.75 530.8V499.6h1.25V530.8ZM184.00 530.8V498.5h1.25V530.8ZM185.25 530.8V499.7h1.25V530.8ZM186.50 530.8V499.9h1.25V530.8ZM187.75 530.8V503.1h1.25V530.8ZM189.00 530.8V507.6h1.25V530.8ZM190.25 530.8V506.8h1.25V530.8ZM191.50 530.8V493.6h1.25V530.8ZM192.75 530.8V502.1h1.25V530.8ZM194.00 530.8V505.6h1.25V530.8ZM195.25 530.8V498.5h1.25V530.8ZM196.50 530.8V510.6h1.25V530.8ZM197.75 530.8V499.8h1.25V530.8ZM199.00 530.8V506.4h1.25V530.8ZM200.25 530.8V506.4h1.25V530.8ZM201.50 530.8V509.3h1.25V530.8ZM202.75 530.8V505.2h1.25V530.8ZM204.00 530.8V498.0h1.25V530.8ZM205.25 530.8V505.2h1.25V530.8ZM206.50 530.8V503.7h1.25V530.8ZM207.75 530.8V507.1h1.25V530.8ZM209.00 530.8V496.6h1.25V530.8ZM210.25 530.8V499.0h1.25V530.8ZM211.50 530.8V512.2h1.25V530.8ZM212.75 530.8V499.8h1.25V530.8ZM214.00 530.8V503.2h1.25V530.8ZM215.25 530.8V504.8h1.25V530.8ZM216.50 530.8V501.5h1.25V530.8ZM217.75 530.8V507.2h1.25V530.8ZM219.00 530.8V498.8h1.25V530.8ZM220.25 530.8V497.8h1.25V530.8ZM221.50 530.8V501.6h1.25V530.8ZM222.75 530.8V508.3h1.25V530.8ZM224.00 530.8V510.6h1.25V530.8ZM225.25 530.8V508.5h1.25V530.8ZM226.50 530.8V501.3h1.25V530.8ZM227.75 530.8V499.9h1.25V530.8ZM229.00 530.8V504.7h1.25V530.8ZM230.25 530.8V504.5h1.25V530.8ZM231.50 530.8V505.3h1.25V530.8ZM232.75 530.8V506.0h1.25V530.8ZM234.00 530.8V497.3h1.25V530.8ZM235.25 530.8V509.4h1.25V530.8ZM236.50 530.8V505.8h1.25V530.8ZM237.75 530.8V503.1h1.25V530.8ZM239.00 530.8V503.3h1.25V530.8ZM240.25 530.8V498.3h1.25V530.8ZM241.50 530.8V501.7h1.25V530.8ZM242.75 530.8V505.8h1.25V530.8ZM244.00 530.8V507.8h1.25V530.8ZM245.25 530.8V505.0h1.25V530.8ZM246.50 530.8V499.2h1.25V530.8ZM247.75 530.8V514.8h1.25V530.8ZM249.00 530.8V507.1h1.25V530.8ZM250.25 530.8V501.0h1.25V530.8ZM251.50 530.8V498.7h1.25V530.8ZM252.75 530.8V500.6h1.25V530.8ZM254.00 530.8V509.4h1.25V530.8ZM255.25 530.8V509.3h1.25V530.8ZM256.50 530.8V504.2h1.25V530.8ZM257.75 530.8V510.2h1.25V530.8ZM259.00 530.8V509.4h1.25V530.8ZM260.25 530.8V497.6h1.25V530.8ZM261.50 530.8V496.9h1.25V530.8ZM262.75 530.8V499.7h1.25V530.8ZM264.00 530.8V508.0h1.25V530.8ZM265.25 530.8V495.8h1.25V530.8ZM266.50 530.8V508.0h1.25V530.8ZM267.75 530.8V509.2h1.25V530.8ZM269.00 530.8V509.7h1.25V530.8ZM270.25 530.8V513.6h1.25V530.8ZM271.50 530.8V506.9h1.25V530.8ZM272.75 530.8V501.6h1.25V530.8ZM274.00 530.8V506.8h1.25V530.8ZM275.25 530.8V506.7h1.25V530.8ZM276.50 530.8V505.6h1.25V530.8ZM277.75 530.8V510.6h1.25V530.8ZM279.00 530.8V509.5h1.25V530.8ZM280.25 530.8V499.5h1.25V530.8ZM281.50 530.8V503.9h1.25V530.8ZM282.75 530.8V506.2h1.25V530.8ZM284.00 530.8V514.0h1.25V530.8ZM285.25 530.8V500.2h1.25V530.8ZM286.50 530.8V508.3h1.25V530.8ZM287.75 530.8V508.1h1.25V530.8ZM289.00 530.8V506.0h1.25V530.8ZM290.25 530.8V510.9h1.25V530.8ZM291.50 530.8V499.5h1.25V530.8ZM292.75 530.8V513.0h1.25V530.8ZM294.00 530.8V507.3h1.25V530.8ZM295.25 530.8V506.1h1.25V530.8ZM296.50 530.8V505.4h1.25V530.8ZM297.75 530.8V509.1h1.25V530.8ZM299.00 530.8V508.5h1.25V530.8ZM300.25 530.8V505.1h1.25V530.8ZM301.50 530.8V503.8h1.25V530.8ZM302.75 530.8V514.4h1.25V530.8ZM304.00 530.8V508.3h1.25V530.8ZM305.25 530.8V502.3h1.25V530.8ZM306.50 530.8V506.2h1.25V530.8ZM307.75 530.8V505.1h1.25V530.8ZM309.00 530.8V502.3h1.25V530.8ZM310.25 530.8V510.6h1.25V530.8ZM311.50 530.8V505.6h1.25V530.8ZM312.75 530.8V503.7h1.25V530.8ZM314.00 530.8V507.3h1.25V530.8ZM315.25 530.8V509.5h1.25V530.8ZM316.50 530.8V508.9h1.25V530.8ZM317.75 530.8V506.9h1.25V530.8ZM319.00 530.8V503.8h1.25V530.8ZM320.25 530.8V501.0h1.25V530.8ZM321.50 530.8V505.6h1.25V530.8ZM322.75 530.8V511.2h1.25V530.8ZM324.00 530.8V511.1h1.25V530.8ZM325.25 530.8V503.4h1.25V530.8ZM326.50 530.8V510.2h1.25V530.8ZM327.75 530.8V507.4h1.25V530.8ZM329.00 530.8V500.4h1.25V530.8ZM330.25 530.8V503.0h1.25V530.8ZM331.50 530.8V499.3h1.25V530.8ZM332.75 530.8V509.9h1.25V530.8ZM334.00 530.8V501.8h1.25V530.8ZM335.25 530.8V506.6h1.25V530.8ZM336.50 530.8V514.8h1.25V530.8ZM337.75 530.8V520.2h1.25V530.8ZM339.00 530.8V503.4h1.25V530.8ZM340.25 530.8V512.7h1.25V530.8ZM341.50 530.8V507.8h1.25V530.8ZM342.75 530.8V510.9h1.25V530.8ZM344.00 530.8V500.6h1.25V530.8ZM345.25 530.8V507.1h1.25V530.8ZM346.50 530.8V509.4h1.25V530.8ZM347.75 530.8V500.7h1.25V530.8ZM349.00 530.8V501.4h1.25V530.8ZM350.25 530.8V511.8h1.25V530.8ZM351.50 530.8V508.7h1.25V530.8ZM352.75 530.8V508.3h1.25V530.8ZM354.00 530.8V510.5h1.25V530.8ZM355.25 530.8V513.7h1.25V530.8ZM356.50 530.8V510.6h1.25V530.8ZM357.75 530.8V508.7h1.25V530.8ZM359.00 530.8V509.2h1.25V530.8ZM360.25 530.8V506.6h1.25V530.8ZM361.50 530.8V508.5h1.25V530.8ZM362.75 530.8V508.6h1.25V530.8ZM364.00 530.8V512.7h1.25V530.8ZM365.25 530.8V507.5h1.25V530.8ZM366.50 530.8V510.5h1.25V530.8ZM367.75 530.8V507.7h1.25V530.8ZM369.00 530.8V506.4h1.25V530.8ZM370.25 530.8V503.9h1.25V530.8ZM371.50 530.8V502.3h1.25V530.8ZM372.75 530.8V514.1h1.25V530.8ZM374.00 530.8V504.5h1.25V530.8ZM375.25 530.8V510.8h1.25V530.8ZM376.50 530.8V509.6h1.25V530.8ZM377.75 530.8V505.7h1.25V530.8ZM379.00 530.8V511.9h1.25V530.8ZM380.25 530.8V506.5h1.25V530.8ZM381.50 530.8V501.5h1.25V530.8ZM382.75 530.8V508.5h1.25V530.8ZM384.00 530.8V499.3h1.25V530.8ZM385.25 530.8V513.8h1.25V530.8ZM386.50 530.8V506.2h1.25V530.8ZM387.75 530.8V507.0h1.25V530.8ZM389.00 530.8V502.5h1.25V530.8ZM390.25 530.8V504.0h1.25V530.8ZM391.50 530.8V509.1h1.25V530.8ZM392.75 530.8V511.5h1.25V530.8ZM394.00 530.8V506.1h1.25V530.8ZM395.25 530.8V509.4h1.25V530.8ZM396.50 530.8V507.1h1.25V530.8ZM397.75 530.8V500.8h1.25V530.8ZM399.00 530.8V508.7h1.25V530.8ZM400.25 530.8V518.1h1.25V530.8ZM401.50 530.8V512.3h1.25V530.8ZM402.75 530.8V508.8h1.25V530.8ZM404.00 530.8V508.1h1.25V530.8ZM405.25 530.8V512.7h1.25V530.8ZM406.50 530.8V508.8h1.25V530.8ZM407.75 530.8V510.9h1.25V530.8ZM409.00 530.8V499.4h1.25V530.8ZM410.25 530.8V501.8h1.25V530.8ZM411.50 530.8V511.9h1.25V530.8ZM412.75 530.8V499.3h1.25V530.8ZM414.00 530.8V504.6h1.25V530.8ZM415.25 530.8V508.5h1.25V530.8ZM416.50 530.8V519.7h1.25V530.8ZM417.75 530.8V505.4h1.25V530.8ZM419.00 530.8V503.1h1.25V530.8ZM420.25 530.8V503.0h1.25V530.8ZM421.50 530.8V507.0h1.25V530.8ZM422.75 530.8V511.0h1.25V530.8ZM424.00 530.8V499.7h1.25V530.8ZM425.25 530.8V513.9h1.25V530.8ZM426.50 530.8V505.6h1.25V530.8ZM427.75 530.8V507.1h1.25V530.8ZM429.00 530.8V504.1h1.25V530.8ZM430.25 530.8V505.3h1.25V530.8ZM431.50 530.8V509.4h1.25V530.8ZM432.75 530.8V515.7h1.25V530.8ZM434.00 530.8V507.4h1.25V530.8ZM435.25 530.8V502.9h1.25V530.8ZM436.50 530.8V510.4h1.25V530.8ZM437.75 530.8V509.1h1.25V530.8ZM439.00 530.8V499.1h1.25V530.8ZM440.25 530.8V510.2h1.25V530.8ZM441.50 530.8V504.0h1.25V530.8ZM442.75 530.8V514.5h1.25V530.8ZM444.00 530.8V500.1h1.25V530.8ZM445.25 530.8V499.1h1.25V530.8ZM446.50 530.8V507.2h1.25V530.8ZM447.75 530.8V514.1h1.25V530.8ZM449.00 530.8V510.7h1.25V530.8ZM450.25 530.8V504.5h1.25V530.8ZM451.50 530.8V507.2h1.25V530.8ZM452.75 530.8V502.0h1.25V530.8ZM454.00 530.8V502.7h1.25V530.8ZM455.25 530.8V495.0h1.25V530.8ZM456.50 530.8V511.2h1.25V530.8ZM457.75 530.8V501.7h1.25V530.8ZM459.00 530.8V512.5h1.25V530.8ZM460.25 530.8V514.2h1.25V530.8ZM461.50 530.8V508.4h1.25V530.8ZM462.75 530.8V516.2h1.25V530.8ZM464.00 530.8V505.6h1.25V530.8ZM465.25 530.8V510.9h1.25V530.8ZM466.50 530.8V507.9h1.25V530.8ZM467.75 530.8V499.5h1.25V530.8ZM469.00 530.8V503.1h1.25V530.8ZM470.25 530.8V503.1h1.25V530.8ZM471.50 530.8V500.4h1.25V530.8ZM472.75 530.8V508.9h1.25V530.8ZM474.00 530.8V505.2h1.25V530.8ZM475.25 530.8V512.1h1.25V530.8ZM476.50 530.8V504.4h1.25V530.8ZM477.75 530.8V501.4h1.25V530.8ZM479.00 530.8V518.2h1.25V530.8ZM480.25 530.8V503.4h1.25V530.8ZM481.50 530.8V510.3h1.25V530.8ZM482.75 530.8V514.0h1.25V530.8ZM484.00 530.8V508.4h1.25V530.8ZM485.25 530.8V510.2h1.25V530.8ZM486.50 530.8V500.7h1.25V530.8ZM487.75 530.8V512.9h1.25V530.8ZM489.00 530.8V512.9h1.25V530.8ZM490.25 530.8V499.1h1.25V530.8ZM491.50 530.8V510.0h1.25V530.8ZM492.75 530.8V503.2h1.25V530.8ZM494.00 530.8V511.7h1.25V530.8ZM495.25 530.8V511.2h1.25V530.8ZM496.50 530.8V507.2h1.25V530.8ZM497.75 530.8V515.5h1.25V530.8ZM499.00 530.8V499.2h1.25V530.8ZM500.25 530.8V509.2h1.25V530.8ZM501.50 530.8V506.0h1.25V530.8ZM502.75 530.8V500.3h1.25V530.8ZM504.00 530.8V501.5h1.25V530.8ZM505.25 530.8V506.5h1.25V530.8ZM506.50 530.8V505.6h1.25V530.8ZM507.75 530.8V512.0h1.25V530.8ZM509.00 530.8V507.6h1.25V530.8ZM510.25 530.8V502.3h1.25V530.8ZM511.50 530.8V502.8h1.25V530.8ZM512.75 530.8V502.1h1.25V530.8ZM514.00 530.8V509.9h1.25V530.8ZM515.25 530.8V512.5h1.25V530.8ZM516.50 530.8V512.4h1.25V530.8ZM517.75 530.8V494.2h1.25V530.8ZM519.00 530.8V505.8h1.25V530.8ZM520.25 530.8V506.6h1.25V530.8ZM521.50 530.8V499.2h1.25V530.8ZM522.75 530.8V505.3h1.25V530.8ZM524.00 530.8V505.3h1.25V530.8ZM525.25 530.8V507.7h1.25V530.8ZM526.50 530.8V510.8h1.25V530.8ZM527.75 530.8V508.7h1.25V530.8ZM529.00 530.8V502.9h1.25V530.8ZM530.25 530.8V512.1h1.25V530.8ZM531.50 530.8V509.5h1.25V530.8ZM532.75 530.8V504.2h1.25V530.8ZM534.00 530.8V503.7h1.25V530.8ZM535.25 530.8V504.4h1.25V530.8ZM536.50 530.8V509.9h1.25V530.8ZM537.75 530.8V504.6h1.25V530.8ZM539.00 530.8V504.3h1.25V530.8ZM540.25 530.8V505.6h1.25V530.8ZM541.50 530.8V501.6h1.25V530.8ZM542.75 530.8V503.4h1.25V530.8ZM544.00 530.8V512.1h1.25V530.8ZM545.25 530.8V511.0h1.25V530.8ZM546.50 530.8V512.6h1.25V530.8ZM547.75 530.8V505.0h1.25V530.8ZM549.00 530.8V497.8h1.25V530.8ZM550.25 530.8V496.8h1.25V530.8ZM551.50 530.8V504.2h1.25V530.8ZM552.75 530.8V513.6h1.25V530.8ZM554.00 530.8V512.3h1.25V530.8ZM555.25 530.8V506.9h1.25V530.8ZM556.50 530.8V503.3h1.25V530.8ZM557.75 530.8V511.6h1.25V530.8ZM559.00 530.8V508.2h1.25V530.8ZM560.25 530.8V501.8h1.25V530.8ZM561.50 530.8V504.5h1.25V530.8ZM562.75 530.8V509.3h1.25V530.8ZM564.00 530.8V503.3h1.25V530.8ZM565.25 530.8V510.4h1.25V530.8ZM566.50 530.8V502.7h1.25V530.8ZM567.75 530.8V507.2h1.25V530.8ZM569.00 530.8V500.4h1.25V530.8ZM570.25 530.8V506.7h1.25V530.8ZM571.50 530.8V512.9h1.25V530.8ZM572.75 530.8V507.3h1.25V530.8ZM574.00 530.8V512.3h1.25V530.8ZM575.25 530.8V499.6h1.25V530.8ZM576.50 530.8V508.1h1.25V530.8ZM577.75 530.8V505.0h1.25V530.8ZM579.00 530.8V511.3h1.25V530.8ZM580.25 530.8V503.2h1.25V530.8ZM581.50 530.8V503.4h1.25V530.8ZM582.75 530.8V498.3h1.25V530.8ZM584.00 530.8V512.7h1.25V530.8ZM585.25 530.8V514.0h1.25V530.8ZM586.50 530.8V509.4h1.25V530.8ZM587.75 530.8V509.1h1.25V530.8ZM589.00 530.8V517.5h1.25V530.8ZM590.25 530.8V504.8h1.25V530.8ZM591.50 530.8V504.5h1.25V530.8ZM592.75 530.8V510.0h1.25V530.8ZM594.00 530.8V502.1h1.25V530.8ZM595.25 530.8V504.4h1.25V530.8ZM596.50 530.8V508.0h1.25V530.8ZM597.75 530.8V499.8h1.25V530.8ZM599.00 530.8V512.8h1.25V530.8ZM600.25 530.8V511.4h1.25V530.8ZM601.50 530.8V510.6h1.25V530.8ZM602.75 530.8V495.0h1.25V530.8ZM604.00 530.8V508.2h1.25V530.8ZM605.25 530.8V509.3h1.25V530.8ZM606.50 530.8V510.5h1.25V530.8ZM607.75 530.8V512.3h1.25V530.8ZM609.00 530.8V502.0h1.25V530.8ZM610.25 530.8V495.9h1.25V530.8ZM611.50 530.8V507.3h1.25V530.8ZM612.75 530.8V497.6h1.25V530.8ZM614.00 530.8V513.5h1.25V530.8ZM615.25 530.8V503.9h1.25V530.8ZM616.50 530.8V513.5h1.25V530.8ZM617.75 530.8V497.9h1.25V530.8ZM619.00 530.8V515.1h1.25V530.8ZM620.25 530.8V513.7h1.25V530.8ZM621.50 530.8V507.5h1.25V530.8ZM622.75 530.8V514.6h1.25V530.8ZM624.00 530.8V519.9h1.25V530.8ZM625.25 530.8V517.4h1.25V530.8ZM626.50 530.8V507.7h1.25V530.8ZM627.75 530.8V504.1h1.25V530.8ZM629.00 530.8V506.1h1.25V530.8ZM630.25 530.8V505.6h1.25V530.8ZM631.50 530.8V503.6h1.25V530.8ZM632.75 530.8V507.9h1.25V530.8ZM634.00 530.8V509.2h1.25V530.8ZM635.25 530.8V506.7h1.25V530.8ZM636.50 530.8V499.4h1.25V530.8ZM637.75 530.8V503.2h1.25V530.8ZM639.00 530.8V506.5h1.25V530.8ZM640.25 530.8V506.4h1.25V530.8ZM641.50 530.8V504.1h1.25V530.8ZM642.75 530.8V510.6h1.25V530.8ZM644.00 530.8V505.5h1.25V530.8ZM645.25 530.8V506.1h1.25V530.8ZM646.50 530.8V507.1h1.25V530.8ZM647.75 530.8V508.9h1.25V530.8ZM649.00 530.8V514.6h1.25V530.8ZM650.25 530.8V503.1h1.25V530.8ZM651.50 530.8V496.3h1.25V530.8ZM652.75 530.8V512.5h1.25V530.8ZM654.00 530.8V514.6h1.25V530.8ZM655.25 530.8V499.9h1.25V530.8ZM656.50 530.8V507.7h1.25V530.8ZM657.75 530.8V513.2h1.25V530.8ZM659.00 530.8V501.3h1.25V530.8ZM660.25 530.8V508.1h1.25V530.8ZM661.50 530.8V510.4h1.25V530.8ZM662.75 530.8V506.2h1.25V530.8ZM664.00 530.8V509.0h1.25V530.8ZM665.25 530.8V512.5h1.25V530.8ZM666.50 530.8V504.2h1.25V530.8ZM667.75 530.8V500.3h1.25V530.8ZM669.00 530.8V510.6h1.25V530.8ZM670.25 530.8V508.3h1.25V530.8ZM671.50 530.8V509.7h1.25V530.8ZM672.75 530.8V506.4h1.25V530.8ZM674.00 530.8V507.1h1.25V530.8ZM675.25 530.8V502.3h1.25V530.8ZM676.50 530.8V503.7h1.25V530.8ZM677.75 530.8V512.6h1.25V530.8ZM679.00 530.8V510.4h1.25V530.8ZM680.25 530.8V509.0h1.25V530.8ZM681.50 530.8V506.5h1.25V530.8ZM682.75 530.8V500.9h1.25V530.8ZM684.00 530.8V495.2h1.25V530.8ZM685.25 530.8V489.9h1.25V530.8ZM686.50 530.8V498.2h1.25V530.8ZM687.75 530.8V491.0h1.25V530.8ZM689.00 530.8V495.8h1.25V530.8ZM690.25 530.8V500.2h1.25V530.8ZM691.50 530.8V511.0h1.25V530.8ZM692.75 530.8V503.1h1.25V530.8ZM694.00 530.8V505.7h1.25V530.8ZM695.25 530.8V504.0h1.25V530.8ZM696.50 530.8V508.5h1.25V530.8ZM697.75 530.8V511.2h1.25V530.8ZM699.00 530.8V509.6h1.25V530.8ZM700.25 530.8V508.4h1.25V530.8ZM701.50 530.8V505.5h1.25V530.8ZM702.75 530.8V505.1h1.25V530.8ZM704.00 530.8V507.8h1.25V530.8ZM705.25 530.8V502.6h1.25V530.8ZM706.50 530.8V506.5h1.25V530.8ZM707.75 530.8V504.9h1.25V530.8ZM709.00 530.8V511.9h1.25V530.8ZM710.25 530.8V505.4h1.25V530.8ZM711.50 530.8V501.5h1.25V530.8ZM712.75 530.8V500.4h1.25V530.8ZM714.00 530.8V498.7h1.25V530.8ZM715.25 530.8V491.8h1.25V530.8ZM716.50 530.8V484.9h1.25V530.8ZM717.75 530.8V469.6h1.25V530.8ZM719.00 530.8V451.7h1.25V530.8Z" fill="#929292"/>
<rect x="173.9" y="449.8" width="1.0" height="81" fill="#b0b0b0"/>
<rect x="188.3" y="458.8" width="1.0" height="72" fill="#b0b0b0"/>
<rect x="224.8" y="449.8" width="1.0" height="81" fill="#666"/>
<rect x="331.0" y="463.8" width="1.0" height="67" fill="#666"/>
<rect x="373.0" y="462.8" width="1.0" height="68" fill="#666"/>
<rect x="434.5" y="450.8" width="1.0" height="80" fill="#b0b0b0"/>
<rect x="441.1" y="464.8" width="1.0" height="66" fill="#b0b0b0"/>
<rect x="451.2" y="475.8" width="1.0" height="55" fill="#b0b0b0"/>
<rect x="486.5" y="470.8" width="1.0" height="60" fill="#b0b0b0"/>
<rect x="494.7" y="467.8" width="1.0" height="63" fill="#b0b0b0"/>
<rect x="497.1" y="467.8" width="1.0" height="63" fill="#b0b0b0"/>
<rect x="501.7" y="467.8" width="1.0" height="63" fill="#b0b0b0"/>
<rect x="541.8" y="472.8" width="1.0" height="58" fill="#b0b0b0"/>
<rect x="600.1" y="449.8" width="1.0" height="81" fill="#666"/>
<rect x="639.8" y="458.8" width="1.0" height="72" fill="#666"/>
<rect x="650.7" y="464.8" width="1.0" height="66" fill="#b0b0b0"/>
<rect x="686.9" y="463.8" width="1.0" height="67" fill="#666"/>
<rect x="700.9" y="458.8" width="1.0" height="72" fill="#666"/>
<path d="M169.00 530.8V441.4h1.25V530.8ZM170.25 530.8V460.4h1.25V530.8ZM171.50 530.8V474.4h1.25V530.8ZM172.75 530.8V482.7h1.25V530.8ZM174.00 530.8V473.6h1.25V530.8ZM175.25 530.8V474.0h1.25V530.8ZM176.50 530.8V497.5h1.25V530.8ZM177.75 530.8V494.0h1.25V530.8ZM179.00 530.8V502.7h1.25V530.8ZM180.25 530.8V503.6h1.25V530.8ZM181.50 530.8V507.2h1.25V530.8ZM182.75 530.8V510.9h1.25V530.8ZM184.00 530.8V510.6h1.25V530.8ZM185.25 530.8V507.1h1.25V530.8ZM186.50 530.8V506.2h1.25V530.8ZM187.75 530.8V511.8h1.25V530.8ZM189.00 530.8V510.2h1.25V530.8ZM190.25 530.8V506.8h1.25V530.8ZM191.50 530.8V508.2h1.25V530.8ZM192.75 530.8V508.5h1.25V530.8ZM194.00 530.8V508.9h1.25V530.8ZM195.25 530.8V516.2h1.25V530.8ZM196.50 530.8V512.9h1.25V530.8ZM197.75 530.8V499.8h1.25V530.8ZM199.00 530.8V515.7h1.25V530.8ZM200.25 530.8V507.8h1.25V530.8ZM201.50 530.8V509.3h1.25V530.8ZM202.75 530.8V513.4h1.25V530.8ZM204.00 530.8V513.3h1.25V530.8ZM205.25 530.8V511.8h1.25V530.8ZM206.50 530.8V518.7h1.25V530.8ZM207.75 530.8V513.3h1.25V530.8ZM209.00 530.8V515.0h1.25V530.8ZM210.25 530.8V510.7h1.25V530.8ZM211.50 530.8V512.2h1.25V530.8ZM212.75 530.8V517.8h1.25V530.8ZM214.00 530.8V510.7h1.25V530.8ZM215.25 530.8V511.5h1.25V530.8ZM216.50 530.8V505.1h1.25V530.8ZM217.75 530.8V508.7h1.25V530.8ZM219.00 530.8V512.4h1.25V530.8ZM220.25 530.8V515.9h1.25V530.8ZM221.50 530.8V509.4h1.25V530.8ZM222.75 530.8V508.3h1.25V530.8ZM224.00 530.8V514.1h1.25V530.8ZM225.25 530.8V510.7h1.25V530.8ZM226.50 530.8V517.7h1.25V530.8ZM227.75 530.8V503.5h1.25V530.8ZM229.00 530.8V519.8h1.25V530.8ZM230.25 530.8V509.8h1.25V530.8ZM231.50 530.8V516.2h1.25V530.8ZM232.75 530.8V509.0h1.25V530.8ZM234.00 530.8V509.9h1.25V530.8ZM235.25 530.8V509.4h1.25V530.8ZM236.50 530.8V506.2h1.25V530.8ZM237.75 530.8V511.6h1.25V530.8ZM239.00 530.8V508.5h1.25V530.8ZM240.25 530.8V505.4h1.25V530.8ZM241.50 530.8V516.3h1.25V530.8ZM242.75 530.8V514.5h1.25V530.8ZM244.00 530.8V507.8h1.25V530.8ZM245.25 530.8V505.0h1.25V530.8ZM246.50 530.8V519.6h1.25V530.8ZM247.75 530.8V516.3h1.25V530.8ZM249.00 530.8V512.0h1.25V530.8ZM250.25 530.8V509.9h1.25V530.8ZM251.50 530.8V500.4h1.25V530.8ZM252.75 530.8V517.9h1.25V530.8ZM254.00 530.8V512.1h1.25V530.8ZM255.25 530.8V509.3h1.25V530.8ZM256.50 530.8V519.9h1.25V530.8ZM257.75 530.8V510.2h1.25V530.8ZM259.00 530.8V511.3h1.25V530.8ZM260.25 530.8V516.2h1.25V530.8ZM261.50 530.8V515.6h1.25V530.8ZM262.75 530.8V499.7h1.25V530.8ZM264.00 530.8V512.1h1.25V530.8ZM265.25 530.8V515.9h1.25V530.8ZM266.50 530.8V508.7h1.25V530.8ZM267.75 530.8V513.1h1.25V530.8ZM269.00 530.8V510.9h1.25V530.8ZM270.25 530.8V519.4h1.25V530.8ZM271.50 530.8V513.0h1.25V530.8ZM272.75 530.8V501.6h1.25V530.8ZM274.00 530.8V506.8h1.25V530.8ZM275.25 530.8V506.7h1.25V530.8ZM276.50 530.8V510.0h1.25V530.8ZM277.75 530.8V520.0h1.25V530.8ZM279.00 530.8V509.5h1.25V530.8ZM280.25 530.8V516.8h1.25V530.8ZM281.50 530.8V514.4h1.25V530.8ZM282.75 530.8V512.1h1.25V530.8ZM284.00 530.8V517.7h1.25V530.8ZM285.25 530.8V516.9h1.25V530.8ZM286.50 530.8V508.3h1.25V530.8ZM287.75 530.8V511.4h1.25V530.8ZM289.00 530.8V514.1h1.25V530.8ZM290.25 530.8V510.9h1.25V530.8ZM291.50 530.8V511.5h1.25V530.8ZM292.75 530.8V516.5h1.25V530.8ZM294.00 530.8V507.3h1.25V530.8ZM295.25 530.8V506.1h1.25V530.8ZM296.50 530.8V518.3h1.25V530.8ZM297.75 530.8V514.8h1.25V530.8ZM299.00 530.8V522.0h1.25V530.8ZM300.25 530.8V510.0h1.25V530.8ZM301.50 530.8V509.7h1.25V530.8ZM302.75 530.8V515.2h1.25V530.8ZM304.00 530.8V508.3h1.25V530.8ZM305.25 530.8V508.2h1.25V530.8ZM306.50 530.8V506.2h1.25V530.8ZM307.75 530.8V510.7h1.25V530.8ZM309.00 530.8V514.3h1.25V530.8ZM310.25 530.8V510.6h1.25V530.8ZM311.50 530.8V513.3h1.25V530.8ZM312.75 530.8V514.2h1.25V530.8ZM314.00 530.8V511.2h1.25V530.8ZM315.25 530.8V510.3h1.25V530.8ZM316.50 530.8V513.7h1.25V530.8ZM317.75 530.8V517.7h1.25V530.8ZM319.00 530.8V513.4h1.25V530.8ZM320.25 530.8V502.2h1.25V530.8ZM321.50 530.8V508.6h1.25V530.8ZM322.75 530.8V511.2h1.25V530.8ZM324.00 530.8V514.2h1.25V530.8ZM325.25 530.8V517.4h1.25V530.8ZM326.50 530.8V516.7h1.25V530.8ZM327.75 530.8V510.9h1.25V530.8ZM329.00 530.8V500.4h1.25V530.8ZM330.25 530.8V520.2h1.25V530.8ZM331.50 530.8V513.3h1.25V530.8ZM332.75 530.8V514.8h1.25V530.8ZM334.00 530.8V523.6h1.25V530.8ZM335.25 530.8V517.4h1.25V530.8ZM336.50 530.8V514.8h1.25V530.8ZM337.75 530.8V520.2h1.25V530.8ZM339.00 530.8V518.0h1.25V530.8ZM340.25 530.8V512.7h1.25V530.8ZM341.50 530.8V518.6h1.25V530.8ZM342.75 530.8V514.1h1.25V530.8ZM344.00 530.8V515.6h1.25V530.8ZM345.25 530.8V516.6h1.25V530.8ZM346.50 530.8V509.4h1.25V530.8ZM347.75 530.8V509.1h1.25V530.8ZM349.00 530.8V513.3h1.25V530.8ZM350.25 530.8V515.7h1.25V530.8ZM351.50 530.8V515.5h1.25V530.8ZM352.75 530.8V519.7h1.25V530.8ZM354.00 530.8V517.1h1.25V530.8ZM355.25 530.8V521.2h1.25V530.8ZM356.50 530.8V510.6h1.25V530.8ZM357.75 530.8V521.1h1.25V530.8ZM359.00 530.8V509.2h1.25V530.8ZM360.25 530.8V513.0h1.25V530.8ZM361.50 530.8V513.5h1.25V530.8ZM362.75 530.8V508.6h1.25V530.8ZM364.00 530.8V512.7h1.25V530.8ZM365.25 530.8V507.5h1.25V530.8ZM366.50 530.8V510.5h1.25V530.8ZM367.75 530.8V508.0h1.25V530.8ZM369.00 530.8V506.4h1.25V530.8ZM370.25 530.8V503.9h1.25V530.8ZM371.50 530.8V509.5h1.25V530.8ZM372.75 530.8V514.1h1.25V530.8ZM374.00 530.8V512.8h1.25V530.8ZM375.25 530.8V510.8h1.25V530.8ZM376.50 530.8V517.2h1.25V530.8ZM377.75 530.8V509.3h1.25V530.8ZM379.00 530.8V515.7h1.25V530.8ZM380.25 530.8V507.5h1.25V530.8ZM381.50 530.8V513.1h1.25V530.8ZM382.75 530.8V517.9h1.25V530.8ZM384.00 530.8V511.8h1.25V530.8ZM385.25 530.8V513.8h1.25V530.8ZM386.50 530.8V509.2h1.25V530.8ZM387.75 530.8V515.3h1.25V530.8ZM389.00 530.8V506.0h1.25V530.8ZM390.25 530.8V513.2h1.25V530.8ZM391.50 530.8V517.6h1.25V530.8ZM392.75 530.8V511.5h1.25V530.8ZM394.00 530.8V510.2h1.25V530.8ZM395.25 530.8V515.8h1.25V530.8ZM396.50 530.8V514.6h1.25V530.8ZM397.75 530.8V515.9h1.25V530.8ZM399.00 530.8V509.0h1.25V530.8ZM400.25 530.8V519.2h1.25V530.8ZM401.50 530.8V513.1h1.25V530.8ZM402.75 530.8V518.6h1.25V530.8ZM404.00 530.8V508.3h1.25V530.8ZM405.25 530.8V517.5h1.25V530.8ZM406.50 530.8V508.8h1.25V530.8ZM407.75 530.8V510.9h1.25V530.8ZM409.00 530.8V519.7h1.25V530.8ZM410.25 530.8V511.9h1.25V530.8ZM411.50 530.8V516.8h1.25V530.8ZM412.75 530.8V517.3h1.25V530.8ZM414.00 530.8V517.8h1.25V530.8ZM415.25 530.8V511.6h1.25V530.8ZM416.50 530.8V522.0h1.25V530.8ZM417.75 530.8V520.3h1.25V530.8ZM419.00 530.8V513.0h1.25V530.8ZM420.25 530.8V518.7h1.25V530.8ZM421.50 530.8V510.9h1.25V530.8ZM422.75 530.8V520.6h1.25V530.8ZM424.00 530.8V513.8h1.25V530.8ZM425.25 530.8V519.0h1.25V530.8ZM426.50 530.8V519.3h1.25V530.8ZM427.75 530.8V513.2h1.25V530.8ZM429.00 530.8V514.5h1.25V530.8ZM430.25 530.8V518.7h1.25V530.8ZM431.50 530.8V509.4h1.25V530.8ZM432.75 530.8V518.4h1.25V530.8ZM434.00 530.8V522.2h1.25V530.8ZM435.25 530.8V515.8h1.25V530.8ZM436.50 530.8V516.5h1.25V530.8ZM437.75 530.8V514.7h1.25V530.8ZM439.00 530.8V515.9h1.25V530.8ZM440.25 530.8V515.8h1.25V530.8ZM441.50 530.8V512.4h1.25V530.8ZM442.75 530.8V525.8h1.25V530.8ZM444.00 530.8V513.7h1.25V530.8ZM445.25 530.8V517.6h1.25V530.8ZM446.50 530.8V519.3h1.25V530.8ZM447.75 530.8V522.1h1.25V530.8ZM449.00 530.8V514.9h1.25V530.8ZM450.25 530.8V512.6h1.25V530.8ZM451.50 530.8V517.3h1.25V530.8ZM452.75 530.8V513.4h1.25V530.8ZM454.00 530.8V519.0h1.25V530.8ZM455.25 530.8V517.8h1.25V530.8ZM456.50 530.8V516.3h1.25V530.8ZM457.75 530.8V517.3h1.25V530.8ZM459.00 530.8V512.5h1.25V530.8ZM460.25 530.8V514.2h1.25V530.8ZM461.50 530.8V514.9h1.25V530.8ZM462.75 530.8V520.8h1.25V530.8ZM464.00 530.8V516.8h1.25V530.8ZM465.25 530.8V517.1h1.25V530.8ZM466.50 530.8V520.9h1.25V530.8ZM467.75 530.8V519.4h1.25V530.8ZM469.00 530.8V519.5h1.25V530.8ZM470.25 530.8V513.9h1.25V530.8ZM471.50 530.8V514.2h1.25V530.8ZM472.75 530.8V518.0h1.25V530.8ZM474.00 530.8V520.1h1.25V530.8ZM475.25 530.8V519.6h1.25V530.8ZM476.50 530.8V520.0h1.25V530.8ZM477.75 530.8V508.2h1.25V530.8ZM479.00 530.8V520.0h1.25V530.8ZM480.25 530.8V506.5h1.25V530.8ZM481.50 530.8V519.6h1.25V530.8ZM482.75 530.8V514.5h1.25V530.8ZM484.00 530.8V508.4h1.25V530.8ZM485.25 530.8V514.5h1.25V530.8ZM486.50 530.8V502.4h1.25V530.8ZM487.75 530.8V518.4h1.25V530.8ZM489.00 530.8V521.7h1.25V530.8ZM490.25 530.8V506.9h1.25V530.8ZM491.50 530.8V510.0h1.25V530.8ZM492.75 530.8V523.2h1.25V530.8ZM494.00 530.8V516.9h1.25V530.8ZM495.25 530.8V511.2h1.25V530.8ZM496.50 530.8V517.5h1.25V530.8ZM497.75 530.8V518.3h1.25V530.8ZM499.00 530.8V514.6h1.25V530.8ZM500.25 530.8V514.1h1.25V530.8ZM501.50 530.8V506.0h1.25V530.8ZM502.75 530.8V518.8h1.25V530.8ZM504.00 530.8V505.4h1.25V530.8ZM505.25 530.8V519.8h1.25V530.8ZM506.50 530.8V517.7h1.25V530.8ZM507.75 530.8V516.0h1.25V530.8ZM509.00 530.8V516.7h1.25V530.8ZM510.25 530.8V519.5h1.25V530.8ZM511.50 530.8V511.2h1.25V530.8ZM512.75 530.8V515.7h1.25V530.8ZM514.00 530.8V514.4h1.25V530.8ZM515.25 530.8V512.5h1.25V530.8ZM516.50 530.8V512.4h1.25V530.8ZM517.75 530.8V519.9h1.25V530.8ZM519.00 530.8V512.4h1.25V530.8ZM520.25 530.8V506.6h1.25V530.8ZM521.50 530.8V518.3h1.25V530.8ZM522.75 530.8V520.8h1.25V530.8ZM524.00 530.8V515.4h1.25V530.8ZM525.25 530.8V516.5h1.25V530.8ZM526.50 530.8V512.8h1.25V530.8ZM527.75 530.8V522.9h1.25V530.8ZM529.00 530.8V520.5h1.25V530.8ZM530.25 530.8V513.6h1.25V530.8ZM531.50 530.8V515.7h1.25V530.8ZM532.75 530.8V504.2h1.25V530.8ZM534.00 530.8V522.4h1.25V530.8ZM535.25 530.8V522.1h1.25V530.8ZM536.50 530.8V516.0h1.25V530.8ZM537.75 530.8V512.6h1.25V530.8ZM539.00 530.8V518.4h1.25V530.8ZM540.25 530.8V512.7h1.25V530.8ZM541.50 530.8V511.2h1.25V530.8ZM542.75 530.8V508.7h1.25V530.8ZM544.00 530.8V512.7h1.25V530.8ZM545.25 530.8V511.0h1.25V530.8ZM546.50 530.8V513.6h1.25V530.8ZM547.75 530.8V505.0h1.25V530.8ZM549.00 530.8V513.0h1.25V530.8ZM550.25 530.8V508.7h1.25V530.8ZM551.50 530.8V515.0h1.25V530.8ZM552.75 530.8V520.9h1.25V530.8ZM554.00 530.8V514.0h1.25V530.8ZM555.25 530.8V509.6h1.25V530.8ZM556.50 530.8V516.4h1.25V530.8ZM557.75 530.8V511.6h1.25V530.8ZM559.00 530.8V508.2h1.25V530.8ZM560.25 530.8V515.2h1.25V530.8ZM561.50 530.8V517.9h1.25V530.8ZM562.75 530.8V510.7h1.25V530.8ZM564.00 530.8V503.3h1.25V530.8ZM565.25 530.8V510.4h1.25V530.8ZM566.50 530.8V510.1h1.25V530.8ZM567.75 530.8V516.4h1.25V530.8ZM569.00 530.8V517.1h1.25V530.8ZM570.25 530.8V506.7h1.25V530.8ZM571.50 530.8V512.9h1.25V530.8ZM572.75 530.8V507.3h1.25V530.8ZM574.00 530.8V513.5h1.25V530.8ZM575.25 530.8V499.6h1.25V530.8ZM576.50 530.8V508.1h1.25V530.8ZM577.75 530.8V511.3h1.25V530.8ZM579.00 530.8V516.5h1.25V530.8ZM580.25 530.8V514.2h1.25V530.8ZM581.50 530.8V508.3h1.25V530.8ZM582.75 530.8V513.0h1.25V530.8ZM584.00 530.8V513.5h1.25V530.8ZM585.25 530.8V514.8h1.25V530.8ZM586.50 530.8V511.1h1.25V530.8ZM587.75 530.8V513.3h1.25V530.8ZM589.00 530.8V517.5h1.25V530.8ZM590.25 530.8V512.9h1.25V530.8ZM591.50 530.8V512.7h1.25V530.8ZM592.75 530.8V511.9h1.25V530.8ZM594.00 530.8V502.1h1.25V530.8ZM595.25 530.8V504.4h1.25V530.8ZM596.50 530.8V509.3h1.25V530.8ZM597.75 530.8V512.0h1.25V530.8ZM599.00 530.8V513.1h1.25V530.8ZM600.25 530.8V517.7h1.25V530.8ZM601.50 530.8V510.7h1.25V530.8ZM602.75 530.8V510.0h1.25V530.8ZM604.00 530.8V511.7h1.25V530.8ZM605.25 530.8V511.9h1.25V530.8ZM606.50 530.8V510.5h1.25V530.8ZM607.75 530.8V519.6h1.25V530.8ZM609.00 530.8V511.2h1.25V530.8ZM610.25 530.8V515.5h1.25V530.8ZM611.50 530.8V517.5h1.25V530.8ZM612.75 530.8V513.7h1.25V530.8ZM614.00 530.8V513.5h1.25V530.8ZM615.25 530.8V517.0h1.25V530.8ZM616.50 530.8V513.5h1.25V530.8ZM617.75 530.8V504.8h1.25V530.8ZM619.00 530.8V515.1h1.25V530.8ZM620.25 530.8V513.7h1.25V530.8ZM621.50 530.8V520.7h1.25V530.8ZM622.75 530.8V514.6h1.25V530.8ZM624.00 530.8V520.5h1.25V530.8ZM625.25 530.8V518.8h1.25V530.8ZM626.50 530.8V517.1h1.25V530.8ZM627.75 530.8V515.8h1.25V530.8ZM629.00 530.8V511.4h1.25V530.8ZM630.25 530.8V518.9h1.25V530.8ZM631.50 530.8V503.6h1.25V530.8ZM632.75 530.8V509.7h1.25V530.8ZM634.00 530.8V509.2h1.25V530.8ZM635.25 530.8V511.8h1.25V530.8ZM636.50 530.8V516.7h1.25V530.8ZM637.75 530.8V510.2h1.25V530.8ZM639.00 530.8V513.2h1.25V530.8ZM640.25 530.8V506.4h1.25V530.8ZM641.50 530.8V511.8h1.25V530.8ZM642.75 530.8V512.9h1.25V530.8ZM644.00 530.8V520.9h1.25V530.8ZM645.25 530.8V521.2h1.25V530.8ZM646.50 530.8V507.1h1.25V530.8ZM647.75 530.8V508.9h1.25V530.8ZM649.00 530.8V515.0h1.25V530.8ZM650.25 530.8V523.2h1.25V530.8ZM651.50 530.8V511.6h1.25V530.8ZM652.75 530.8V522.5h1.25V530.8ZM654.00 530.8V517.6h1.25V530.8ZM655.25 530.8V512.8h1.25V530.8ZM656.50 530.8V513.0h1.25V530.8ZM657.75 530.8V513.8h1.25V530.8ZM659.00 530.8V501.3h1.25V530.8ZM660.25 530.8V508.1h1.25V530.8ZM661.50 530.8V517.4h1.25V530.8ZM662.75 530.8V514.2h1.25V530.8ZM664.00 530.8V516.2h1.25V530.8ZM665.25 530.8V517.2h1.25V530.8ZM666.50 530.8V524.0h1.25V530.8ZM667.75 530.8V514.6h1.25V530.8ZM669.00 530.8V510.6h1.25V530.8ZM670.25 530.8V508.3h1.25V530.8ZM671.50 530.8V516.4h1.25V530.8ZM672.75 530.8V511.3h1.25V530.8ZM674.00 530.8V512.6h1.25V530.8ZM675.25 530.8V505.2h1.25V530.8ZM676.50 530.8V514.5h1.25V530.8ZM677.75 530.8V512.6h1.25V530.8ZM679.00 530.8V510.4h1.25V530.8ZM680.25 530.8V512.7h1.25V530.8ZM681.50 530.8V509.1h1.25V530.8ZM682.75 530.8V500.9h1.25V530.8ZM684.00 530.8V495.2h1.25V530.8ZM685.25 530.8V489.9h1.25V530.8ZM686.50 530.8V498.2h1.25V530.8ZM687.75 530.8V491.0h1.25V530.8ZM689.00 530.8V495.8h1.25V530.8ZM690.25 530.8V500.2h1.25V530.8ZM691.50 530.8V514.9h1.25V530.8ZM692.75 530.8V510.1h1.25V530.8ZM694.00 530.8V507.1h1.25V530.8ZM695.25 530.8V507.7h1.25V530.8ZM696.50 530.8V514.4h1.25V530.8ZM697.75 530.8V514.4h1.25V530.8ZM699.00 530.8V514.2h1.25V530.8ZM700.25 530.8V508.4h1.25V530.8ZM701.50 530.8V510.4h1.25V530.8ZM702.75 530.8V514.3h1.25V530.8ZM704.00 530.8V511.6h1.25V530.8ZM705.25 530.8V507.0h1.25V530.8ZM706.50 530.8V506.5h1.25V530.8ZM707.75 530.8V504.9h1.25V530.8ZM709.00 530.8V511.9h1.25V530.8ZM710.25 530.8V508.0h1.25V530.8ZM711.50 530.8V501.5h1.25V530.8ZM712.75 530.8V500.4h1.25V530.8ZM714.00 530.8V498.7h1.25V530.8ZM715.25 530.8V491.8h1.25V530.8ZM716.50 530.8V484.9h1.25V530.8ZM717.75 530.8V469.6h1.25V530.8ZM719.00 530.8V451.7h1.25V530.8Z" fill="#777"/>
<path d="M169.00 530.8V441.4h1.25V530.8ZM170.25 530.8V460.4h1.25V530.8ZM171.50 530.8V474.4h1.25V530.8ZM172.75 530.8V482.7h1.25V530.8ZM174.00 530.8V473.6h1.25V530.8ZM175.25 530.8V474.0h1.25V530.8ZM176.50 530.8V497.5h1.25V530.8ZM177.75 530.8V494.0h1.25V530.8ZM179.00 530.8V502.7h1.25V530.8ZM180.25 530.8V510.3h1.25V530.8ZM181.50 530.8V507.2h1.25V530.8ZM182.75 530.8V512.0h1.25V530.8ZM184.00 530.8V512.9h1.25V530.8ZM185.25 530.8V507.1h1.25V530.8ZM186.50 530.8V522.7h1.25V530.8ZM187.75 530.8V511.8h1.25V530.8ZM189.00 530.8V517.2h1.25V530.8ZM190.25 530.8V514.9h1.25V530.8ZM191.50 530.8V508.2h1.25V530.8ZM192.75 530.8V520.3h1.25V530.8ZM194.00 530.8V518.8h1.25V530.8ZM195.25 530.8V524.7h1.25V530.8ZM196.50 530.8V512.9h1.25V530.8ZM197.75 530.8V499.8h1.25V530.8ZM199.00 530.8V515.7h1.25V530.8ZM200.25 530.8V514.2h1.25V530.8ZM201.50 530.8V515.7h1.25V530.8ZM202.75 530.8V519.5h1.25V530.8ZM204.00 530.8V513.3h1.25V530.8ZM205.25 530.8V517.4h1.25V530.8ZM206.50 530.8V520.1h1.25V530.8ZM207.75 530.8V524.7h1.25V530.8ZM209.00 530.8V515.0h1.25V530.8ZM210.25 530.8V510.7h1.25V530.8ZM211.50 530.8V512.2h1.25V530.8ZM212.75 530.8V522.6h1.25V530.8ZM214.00 530.8V514.7h1.25V530.8ZM215.25 530.8V511.6h1.25V530.8ZM216.50 530.8V513.1h1.25V530.8ZM217.75 530.8V508.7h1.25V530.8ZM219.00 530.8V513.6h1.25V530.8ZM220.25 530.8V515.9h1.25V530.8ZM221.50 530.8V509.4h1.25V530.8ZM222.75 530.8V514.3h1.25V530.8ZM224.00 530.8V514.1h1.25V530.8ZM225.25 530.8V514.5h1.25V530.8ZM226.50 530.8V522.5h1.25V530.8ZM227.75 530.8V520.8h1.25V530.8ZM229.00 530.8V524.3h1.25V530.8ZM230.25 530.8V515.2h1.25V530.8ZM231.50 530.8V516.2h1.25V530.8ZM232.75 530.8V516.9h1.25V530.8ZM234.00 530.8V518.7h1.25V530.8ZM235.25 530.8V509.4h1.25V530.8ZM236.50 530.8V506.2h1.25V530.8ZM237.75 530.8V511.6h1.25V530.8ZM239.00 530.8V520.4h1.25V530.8ZM240.25 530.8V520.0h1.25V530.8ZM241.50 530.8V522.1h1.25V530.8ZM242.75 530.8V514.5h1.25V530.8ZM244.00 530.8V520.0h1.25V530.8ZM245.25 530.8V505.0h1.25V530.8ZM246.50 530.8V520.0h1.25V530.8ZM247.75 530.8V525.4h1.25V530.8ZM249.00 530.8V512.0h1.25V530.8ZM250.25 530.8V512.6h1.25V530.8ZM251.50 530.8V517.5h1.25V530.8ZM252.75 530.8V519.9h1.25V530.8ZM254.00 530.8V522.8h1.25V530.8ZM255.25 530.8V519.4h1.25V530.8ZM256.50 530.8V519.9h1.25V530.8ZM257.75 530.8V515.2h1.25V530.8ZM259.00 530.8V518.4h1.25V530.8ZM260.25 530.8V520.5h1.25V530.8ZM261.50 530.8V521.1h1.25V530.8ZM262.75 530.8V499.7h1.25V530.8ZM264.00 530.8V525.7h1.25V530.8ZM265.25 530.8V526.9h1.25V530.8ZM266.50 530.8V522.4h1.25V530.8ZM267.75 530.8V518.8h1.25V530.8ZM269.00 530.8V526.4h1.25V530.8ZM270.25 530.8V526.6h1.25V530.8ZM271.50 530.8V526.0h1.25V530.8ZM272.75 530.8V510.3h1.25V530.8ZM274.00 530.8V506.8h1.25V530.8ZM275.25 530.8V514.6h1.25V530.8ZM276.50 530.8V511.2h1.25V530.8ZM277.75 530.8V520.0h1.25V530.8ZM279.00 530.8V509.5h1.25V530.8ZM280.25 530.8V520.1h1.25V530.8ZM281.50 530.8V516.9h1.25V530.8ZM282.75 530.8V518.6h1.25V530.8ZM284.00 530.8V517.7h1.25V530.8ZM285.25 530.8V516.9h1.25V530.8ZM286.50 530.8V508.3h1.25V530.8ZM287.75 530.8V514.9h1.25V530.8ZM289.00 530.8V514.1h1.25V530.8ZM290.25 530.8V510.9h1.25V530.8ZM291.50 530.8V511.5h1.25V530.8ZM292.75 530.8V517.7h1.25V530.8ZM294.00 530.8V507.3h1.25V530.8ZM295.25 530.8V520.3h1.25V530.8ZM296.50 530.8V520.7h1.25V530.8ZM297.75 530.8V514.8h1.25V530.8ZM299.00 530.8V522.7h1.25V530.8ZM300.25 530.8V513.9h1.25V530.8ZM301.50 530.8V510.3h1.25V530.8ZM302.75 530.8V522.0h1.25V530.8ZM304.00 530.8V508.3h1.25V530.8ZM305.25 530.8V508.2h1.25V530.8ZM306.50 530.8V509.8h1.25V530.8ZM307.75 530.8V510.7h1.25V530.8ZM309.00 530.8V516.6h1.25V530.8ZM310.25 530.8V510.6h1.25V530.8ZM311.50 530.8V514.6h1.25V530.8ZM312.75 530.8V515.4h1.25V530.8ZM314.00 530.8V511.2h1.25V530.8ZM315.25 530.8V514.9h1.25V530.8ZM316.50 530.8V513.7h1.25V530.8ZM317.75 530.8V517.7h1.25V530.8ZM319.00 530.8V515.6h1.25V530.8ZM320.25 530.8V502.2h1.25V530.8ZM321.50 530.8V508.6h1.25V530.8ZM322.75 530.8V511.2h1.25V530.8ZM324.00 530.8V524.1h1.25V530.8ZM325.25 530.8V522.5h1.25V530.8ZM326.50 530.8V524.0h1.25V530.8ZM327.75 530.8V521.6h1.25V530.8ZM329.00 530.8V524.2h1.25V530.8ZM330.25 530.8V524.7h1.25V530.8ZM331.50 530.8V524.7h1.25V530.8ZM332.75 530.8V524.1h1.25V530.8ZM334.00 530.8V524.8h1.25V530.8ZM335.25 530.8V523.2h1.25V530.8ZM336.50 530.8V523.1h1.25V530.8ZM337.75 530.8V526.6h1.25V530.8ZM339.00 530.8V524.8h1.25V530.8ZM340.25 530.8V515.3h1.25V530.8ZM341.50 530.8V523.8h1.25V530.8ZM342.75 530.8V521.5h1.25V530.8ZM344.00 530.8V524.3h1.25V530.8ZM345.25 530.8V516.6h1.25V530.8ZM346.50 530.8V509.4h1.25V530.8ZM347.75 530.8V520.6h1.25V530.8ZM349.00 530.8V520.6h1.25V530.8ZM350.25 530.8V515.7h1.25V530.8ZM351.50 530.8V524.1h1.25V530.8ZM352.75 530.8V519.8h1.25V530.8ZM354.00 530.8V525.5h1.25V530.8ZM355.25 530.8V524.8h1.25V530.8ZM356.50 530.8V510.7h1.25V530.8ZM357.75 530.8V522.2h1.25V530.8ZM359.00 530.8V513.0h1.25V530.8ZM360.25 530.8V513.0h1.25V530.8ZM361.50 530.8V513.5h1.25V530.8ZM362.75 530.8V509.8h1.25V530.8ZM364.00 530.8V512.7h1.25V530.8ZM365.25 530.8V507.5h1.25V530.8ZM366.50 530.8V510.5h1.25V530.8ZM367.75 530.8V508.0h1.25V530.8ZM369.00 530.8V515.7h1.25V530.8ZM370.25 530.8V514.9h1.25V530.8ZM371.50 530.8V513.4h1.25V530.8ZM372.75 530.8V514.1h1.25V530.8ZM374.00 530.8V512.8h1.25V530.8ZM375.25 530.8V517.6h1.25V530.8ZM376.50 530.8V520.0h1.25V530.8ZM377.75 530.8V521.1h1.25V530.8ZM379.00 530.8V525.6h1.25V530.8ZM380.25 530.8V507.5h1.25V530.8ZM381.50 530.8V518.4h1.25V530.8ZM382.75 530.8V517.9h1.25V530.8ZM384.00 530.8V514.4h1.25V530.8ZM385.25 530.8V519.6h1.25V530.8ZM386.50 530.8V521.0h1.25V530.8ZM387.75 530.8V520.3h1.25V530.8ZM389.00 530.8V520.5h1.25V530.8ZM390.25 530.8V520.7h1.25V530.8ZM391.50 530.8V522.5h1.25V530.8ZM392.75 530.8V517.9h1.25V530.8ZM394.00 530.8V515.1h1.25V530.8ZM395.25 530.8V524.3h1.25V530.8ZM396.50 530.8V517.9h1.25V530.8ZM397.75 530.8V521.1h1.25V530.8ZM399.00 530.8V523.3h1.25V530.8ZM400.25 530.8V525.5h1.25V530.8ZM401.50 530.8V522.4h1.25V530.8ZM402.75 530.8V524.1h1.25V530.8ZM404.00 530.8V523.2h1.25V530.8ZM405.25 530.8V524.2h1.25V530.8ZM406.50 530.8V523.8h1.25V530.8ZM407.75 530.8V510.9h1.25V530.8ZM409.00 530.8V520.2h1.25V530.8ZM410.25 530.8V525.4h1.25V530.8ZM411.50 530.8V522.8h1.25V530.8ZM412.75 530.8V525.5h1.25V530.8ZM414.00 530.8V524.5h1.25V530.8ZM415.25 530.8V518.2h1.25V530.8ZM416.50 530.8V522.1h1.25V530.8ZM417.75 530.8V522.4h1.25V530.8ZM419.00 530.8V522.6h1.25V530.8ZM420.25 530.8V525.2h1.25V530.8ZM421.50 530.8V519.6h1.25V530.8ZM422.75 530.8V524.8h1.25V530.8ZM424.00 530.8V513.8h1.25V530.8ZM425.25 530.8V519.0h1.25V530.8ZM426.50 530.8V521.1h1.25V530.8ZM427.75 530.8V517.2h1.25V530.8ZM429.00 530.8V519.7h1.25V530.8ZM430.25 530.8V524.8h1.25V530.8ZM431.50 530.8V520.2h1.25V530.8ZM432.75 530.8V521.2h1.25V530.8ZM434.00 530.8V523.1h1.25V530.8ZM435.25 530.8V522.5h1.25V530.8ZM436.50 530.8V523.0h1.25V530.8ZM437.75 530.8V520.0h1.25V530.8ZM439.00 530.8V520.6h1.25V530.8ZM440.25 530.8V515.8h1.25V530.8ZM441.50 530.8V516.4h1.25V530.8ZM442.75 530.8V525.8h1.25V530.8ZM444.00 530.8V513.7h1.25V530.8ZM445.25 530.8V518.2h1.25V530.8ZM446.50 530.8V519.3h1.25V530.8ZM447.75 530.8V523.7h1.25V530.8ZM449.00 530.8V519.8h1.25V530.8ZM450.25 530.8V523.4h1.25V530.8ZM451.50 530.8V517.3h1.25V530.8ZM452.75 530.8V515.7h1.25V530.8ZM454.00 530.8V519.0h1.25V530.8ZM455.25 530.8V519.5h1.25V530.8ZM456.50 530.8V518.6h1.25V530.8ZM457.75 530.8V517.3h1.25V530.8ZM459.00 530.8V524.9h1.25V530.8ZM460.25 530.8V516.1h1.25V530.8ZM461.50 530.8V521.3h1.25V530.8ZM462.75 530.8V523.0h1.25V530.8ZM464.00 530.8V518.1h1.25V530.8ZM465.25 530.8V519.5h1.25V530.8ZM466.50 530.8V524.1h1.25V530.8ZM467.75 530.8V519.4h1.25V530.8ZM469.00 530.8V519.5h1.25V530.8ZM470.25 530.8V519.2h1.25V530.8ZM471.50 530.8V514.3h1.25V530.8ZM472.75 530.8V520.6h1.25V530.8ZM474.00 530.8V520.7h1.25V530.8ZM475.25 530.8V523.4h1.25V530.8ZM476.50 530.8V520.0h1.25V530.8ZM477.75 530.8V508.2h1.25V530.8ZM479.00 530.8V520.0h1.25V530.8ZM480.25 530.8V508.3h1.25V530.8ZM481.50 530.8V519.6h1.25V530.8ZM482.75 530.8V524.2h1.25V530.8ZM484.00 530.8V519.3h1.25V530.8ZM485.25 530.8V515.9h1.25V530.8ZM486.50 530.8V515.8h1.25V530.8ZM487.75 530.8V521.3h1.25V530.8ZM489.00 530.8V521.7h1.25V530.8ZM490.25 530.8V523.4h1.25V530.8ZM491.50 530.8V510.0h1.25V530.8ZM492.75 530.8V523.2h1.25V530.8ZM494.00 530.8V519.1h1.25V530.8ZM495.25 530.8V519.9h1.25V530.8ZM496.50 530.8V519.1h1.25V530.8ZM497.75 530.8V519.3h1.25V530.8ZM499.00 530.8V514.6h1.25V530.8ZM500.25 530.8V523.0h1.25V530.8ZM501.50 530.8V521.1h1.25V530.8ZM502.75 530.8V522.7h1.25V530.8ZM504.00 530.8V505.4h1.25V530.8ZM505.25 530.8V519.8h1.25V530.8ZM506.50 530.8V519.4h1.25V530.8ZM507.75 530.8V516.2h1.25V530.8ZM509.00 530.8V521.2h1.25V530.8ZM510.25 530.8V520.7h1.25V530.8ZM511.50 530.8V514.6h1.25V530.8ZM512.75 530.8V520.6h1.25V530.8ZM514.00 530.8V521.3h1.25V530.8ZM515.25 530.8V512.5h1.25V530.8ZM516.50 530.8V526.6h1.25V530.8ZM517.75 530.8V519.9h1.25V530.8ZM519.00 530.8V525.3h1.25V530.8ZM520.25 530.8V520.5h1.25V530.8ZM521.50 530.8V519.2h1.25V530.8ZM522.75 530.8V522.4h1.25V530.8ZM524.00 530.8V515.6h1.25V530.8ZM525.25 530.8V521.4h1.25V530.8ZM526.50 530.8V512.8h1.25V530.8ZM527.75 530.8V522.9h1.25V530.8ZM529.00 530.8V520.5h1.25V530.8ZM530.25 530.8V514.2h1.25V530.8ZM531.50 530.8V522.4h1.25V530.8ZM532.75 530.8V517.5h1.25V530.8ZM534.00 530.8V523.2h1.25V530.8ZM535.25 530.8V522.1h1.25V530.8ZM536.50 530.8V525.2h1.25V530.8ZM537.75 530.8V522.5h1.25V530.8ZM539.00 530.8V518.4h1.25V530.8ZM540.25 530.8V512.7h1.25V530.8ZM541.50 530.8V511.2h1.25V530.8ZM542.75 530.8V508.7h1.25V530.8ZM544.00 530.8V512.7h1.25V530.8ZM545.25 530.8V511.0h1.25V530.8ZM546.50 530.8V515.7h1.25V530.8ZM547.75 530.8V511.6h1.25V530.8ZM549.00 530.8V513.0h1.25V530.8ZM550.25 530.8V513.2h1.25V530.8ZM551.50 530.8V515.0h1.25V530.8ZM552.75 530.8V520.9h1.25V530.8ZM554.00 530.8V514.0h1.25V530.8ZM555.25 530.8V523.1h1.25V530.8ZM556.50 530.8V523.1h1.25V530.8ZM557.75 530.8V519.0h1.25V530.8ZM559.00 530.8V518.3h1.25V530.8ZM560.25 530.8V518.4h1.25V530.8ZM561.50 530.8V519.2h1.25V530.8ZM562.75 530.8V510.7h1.25V530.8ZM564.00 530.8V503.3h1.25V530.8ZM565.25 530.8V510.9h1.25V530.8ZM566.50 530.8V510.1h1.25V530.8ZM567.75 530.8V516.4h1.25V530.8ZM569.00 530.8V517.1h1.25V530.8ZM570.25 530.8V506.7h1.25V530.8ZM571.50 530.8V512.9h1.25V530.8ZM572.75 530.8V518.3h1.25V530.8ZM574.00 530.8V513.5h1.25V530.8ZM575.25 530.8V499.6h1.25V530.8ZM576.50 530.8V508.1h1.25V530.8ZM577.75 530.8V511.3h1.25V530.8ZM579.00 530.8V516.5h1.25V530.8ZM580.25 530.8V514.2h1.25V530.8ZM581.50 530.8V512.9h1.25V530.8ZM582.75 530.8V513.0h1.25V530.8ZM584.00 530.8V513.5h1.25V530.8ZM585.25 530.8V514.8h1.25V530.8ZM586.50 530.8V511.1h1.25V530.8ZM587.75 530.8V513.4h1.25V530.8ZM589.00 530.8V517.5h1.25V530.8ZM590.25 530.8V515.4h1.25V530.8ZM591.50 530.8V512.7h1.25V530.8ZM592.75 530.8V511.9h1.25V530.8ZM594.00 530.8V502.1h1.25V530.8ZM595.25 530.8V504.4h1.25V530.8ZM596.50 530.8V509.3h1.25V530.8ZM597.75 530.8V518.0h1.25V530.8ZM599.00 530.8V513.1h1.25V530.8ZM600.25 530.8V517.7h1.25V530.8ZM601.50 530.8V510.7h1.25V530.8ZM602.75 530.8V510.0h1.25V530.8ZM604.00 530.8V517.2h1.25V530.8ZM605.25 530.8V518.9h1.25V530.8ZM606.50 530.8V519.4h1.25V530.8ZM607.75 530.8V522.0h1.25V530.8ZM609.00 530.8V511.2h1.25V530.8ZM610.25 530.8V515.5h1.25V530.8ZM611.50 530.8V517.5h1.25V530.8ZM612.75 530.8V523.7h1.25V530.8ZM614.00 530.8V516.5h1.25V530.8ZM615.25 530.8V520.7h1.25V530.8ZM616.50 530.8V513.5h1.25V530.8ZM617.75 530.8V523.3h1.25V530.8ZM619.00 530.8V522.3h1.25V530.8ZM620.25 530.8V513.7h1.25V530.8ZM621.50 530.8V522.5h1.25V530.8ZM622.75 530.8V518.6h1.25V530.8ZM624.00 530.8V525.2h1.25V530.8ZM625.25 530.8V518.8h1.25V530.8ZM626.50 530.8V525.8h1.25V530.8ZM627.75 530.8V523.2h1.25V530.8ZM629.00 530.8V527.6h1.25V530.8ZM630.25 530.8V521.8h1.25V530.8ZM631.50 530.8V503.6h1.25V530.8ZM632.75 530.8V513.6h1.25V530.8ZM634.00 530.8V509.2h1.25V530.8ZM635.25 530.8V511.8h1.25V530.8ZM636.50 530.8V516.7h1.25V530.8ZM637.75 530.8V510.2h1.25V530.8ZM639.00 530.8V513.2h1.25V530.8ZM640.25 530.8V509.1h1.25V530.8ZM641.50 530.8V511.8h1.25V530.8ZM642.75 530.8V513.6h1.25V530.8ZM644.00 530.8V525.2h1.25V530.8ZM645.25 530.8V522.7h1.25V530.8ZM646.50 530.8V520.0h1.25V530.8ZM647.75 530.8V523.4h1.25V530.8ZM649.00 530.8V524.8h1.25V530.8ZM650.25 530.8V525.3h1.25V530.8ZM651.50 530.8V511.6h1.25V530.8ZM652.75 530.8V523.3h1.25V530.8ZM654.00 530.8V525.1h1.25V530.8ZM655.25 530.8V512.8h1.25V530.8ZM656.50 530.8V513.0h1.25V530.8ZM657.75 530.8V513.8h1.25V530.8ZM659.00 530.8V501.3h1.25V530.8ZM660.25 530.8V508.1h1.25V530.8ZM661.50 530.8V526.5h1.25V530.8ZM662.75 530.8V526.1h1.25V530.8ZM664.00 530.8V524.5h1.25V530.8ZM665.25 530.8V523.1h1.25V530.8ZM666.50 530.8V524.0h1.25V530.8ZM667.75 530.8V521.3h1.25V530.8ZM669.00 530.8V523.5h1.25V530.8ZM670.25 530.8V517.6h1.25V530.8ZM671.50 530.8V523.1h1.25V530.8ZM672.75 530.8V523.7h1.25V530.8ZM674.00 530.8V512.6h1.25V530.8ZM675.25 530.8V505.2h1.25V530.8ZM676.50 530.8V514.5h1.25V530.8ZM677.75 530.8V515.5h1.25V530.8ZM679.00 530.8V510.4h1.25V530.8ZM680.25 530.8V512.7h1.25V530.8ZM681.50 530.8V509.1h1.25V530.8ZM682.75 530.8V500.9h1.25V530.8ZM684.00 530.8V495.2h1.25V530.8ZM685.25 530.8V489.9h1.25V530.8ZM686.50 530.8V498.2h1.25V530.8ZM687.75 530.8V491.0h1.25V530.8ZM689.00 530.8V495.8h1.25V530.8ZM690.25 530.8V500.2h1.25V530.8ZM691.50 530.8V514.9h1.25V530.8ZM692.75 530.8V511.0h1.25V530.8ZM694.00 530.8V515.9h1.25V530.8ZM695.25 530.8V507.7h1.25V530.8ZM696.50 530.8V514.7h1.25V530.8ZM697.75 530.8V514.4h1.25V530.8ZM699.00 530.8V514.2h1.25V530.8ZM700.25 530.8V511.5h1.25V530.8ZM701.50 530.8V514.5h1.25V530.8ZM702.75 530.8V514.3h1.25V530.8ZM704.00 530.8V511.6h1.25V530.8ZM705.25 530.8V509.6h1.25V530.8ZM706.50 530.8V506.5h1.25V530.8ZM707.75 530.8V504.9h1.25V530.8ZM709.00 530.8V513.5h1.25V530.8ZM710.25 530.8V508.0h1.25V530.8ZM711.50 530.8V501.5h1.25V530.8ZM712.75 530.8V500.4h1.25V530.8ZM714.00 530.8V498.7h1.25V530.8ZM715.25 530.8V491.8h1.25V530.8ZM716.50 530.8V484.9h1.25V530.8ZM717.75 530.8V469.6h1.25V530.8ZM719.00 530.8V451.7h1.25V530.8Z" fill="#484848"/>
<path d="M169.00 530.8V449.1h1.25V530.8ZM170.25 530.8V463.4h1.25V530.8ZM171.50 530.8V474.5h1.25V530.8ZM172.75 530.8V482.7h1.25V530.8ZM174.00 530.8V479.2h1.25V530.8ZM175.25 530.8V492.2h1.25V530.8ZM176.50 530.8V498.5h1.25V530.8ZM177.75 530.8V499.6h1.25V530.8ZM179.00 530.8V504.2h1.25V530.8ZM180.25 530.8V511.6h1.25V530.8ZM181.50 530.8V507.8h1.25V530.8ZM182.75 530.8V513.6h1.25V530.8ZM184.00 530.8V519.3h1.25V530.8ZM185.25 530.8V520.7h1.25V530.8ZM186.50 530.8V522.9h1.25V530.8ZM187.75 530.8V521.4h1.25V530.8ZM189.00 530.8V524.3h1.25V530.8ZM190.25 530.8V523.9h1.25V530.8ZM191.50 530.8V511.9h1.25V530.8ZM192.75 530.8V524.1h1.25V530.8ZM194.00 530.8V519.8h1.25V530.8ZM195.25 530.8V525.3h1.25V530.8ZM196.50 530.8V516.1h1.25V530.8ZM197.75 530.8V509.6h1.25V530.8ZM199.00 530.8V516.0h1.25V530.8ZM200.25 530.8V518.9h1.25V530.8ZM201.50 530.8V517.3h1.25V530.8ZM202.75 530.8V522.1h1.25V530.8ZM204.00 530.8V517.2h1.25V530.8ZM205.25 530.8V517.7h1.25V530.8ZM206.50 530.8V523.7h1.25V530.8ZM207.75 530.8V525.8h1.25V530.8ZM209.00 530.8V521.6h1.25V530.8ZM210.25 530.8V517.0h1.25V530.8ZM211.50 530.8V517.8h1.25V530.8ZM212.75 530.8V523.3h1.25V530.8ZM214.00 530.8V516.5h1.25V530.8ZM215.25 530.8V512.7h1.25V530.8ZM216.50 530.8V513.6h1.25V530.8ZM217.75 530.8V518.2h1.25V530.8ZM219.00 530.8V514.2h1.25V530.8ZM220.25 530.8V520.1h1.25V530.8ZM221.50 530.8V509.8h1.25V530.8ZM222.75 530.8V520.6h1.25V530.8ZM224.00 530.8V519.2h1.25V530.8ZM225.25 530.8V516.8h1.25V530.8ZM226.50 530.8V522.8h1.25V530.8ZM227.75 530.8V525.8h1.25V530.8ZM229.00 530.8V524.8h1.25V530.8ZM230.25 530.8V517.2h1.25V530.8ZM231.50 530.8V519.3h1.25V530.8ZM232.75 530.8V522.5h1.25V530.8ZM234.00 530.8V521.2h1.25V530.8ZM235.25 530.8V511.0h1.25V530.8ZM236.50 530.8V515.6h1.25V530.8ZM237.75 530.8V518.6h1.25V530.8ZM239.00 530.8V525.0h1.25V530.8ZM240.25 530.8V522.9h1.25V530.8ZM241.50 530.8V524.4h1.25V530.8ZM242.75 530.8V517.5h1.25V530.8ZM244.00 530.8V524.1h1.25V530.8ZM245.25 530.8V524.2h1.25V530.8ZM246.50 530.8V525.3h1.25V530.8ZM247.75 530.8V526.1h1.25V530.8ZM249.00 530.8V514.1h1.25V530.8ZM250.25 530.8V515.1h1.25V530.8ZM251.50 530.8V517.8h1.25V530.8ZM252.75 530.8V522.0h1.25V530.8ZM254.00 530.8V524.6h1.25V530.8ZM255.25 530.8V526.1h1.25V530.8ZM256.50 530.8V522.7h1.25V530.8ZM257.75 530.8V519.3h1.25V530.8ZM259.00 530.8V522.7h1.25V530.8ZM260.25 530.8V520.5h1.25V530.8ZM261.50 530.8V524.4h1.25V530.8ZM262.75 530.8V526.9h1.25V530.8ZM264.00 530.8V528.6h1.25V530.8ZM265.25 530.8V527.2h1.25V530.8ZM266.50 530.8V524.9h1.25V530.8ZM267.75 530.8V519.0h1.25V530.8ZM269.00 530.8V526.6h1.25V530.8ZM270.25 530.8V527.6h1.25V530.8ZM271.50 530.8V526.9h1.25V530.8ZM272.75 530.8V514.4h1.25V530.8ZM274.00 530.8V508.8h1.25V530.8ZM275.25 530.8V516.5h1.25V530.8ZM276.50 530.8V511.9h1.25V530.8ZM277.75 530.8V520.9h1.25V530.8ZM279.00 530.8V518.7h1.25V530.8ZM280.25 530.8V521.4h1.25V530.8ZM281.50 530.8V521.1h1.25V530.8ZM282.75 530.8V518.7h1.25V530.8ZM284.00 530.8V518.0h1.25V530.8ZM285.25 530.8V517.6h1.25V530.8ZM286.50 530.8V511.2h1.25V530.8ZM287.75 530.8V518.1h1.25V530.8ZM289.00 530.8V515.7h1.25V530.8ZM290.25 530.8V512.9h1.25V530.8ZM291.50 530.8V511.7h1.25V530.8ZM292.75 530.8V519.0h1.25V530.8ZM294.00 530.8V515.7h1.25V530.8ZM295.25 530.8V521.9h1.25V530.8ZM296.50 530.8V522.2h1.25V530.8ZM297.75 530.8V520.3h1.25V530.8ZM299.00 530.8V522.8h1.25V530.8ZM300.25 530.8V518.8h1.25V530.8ZM301.50 530.8V517.2h1.25V530.8ZM302.75 530.8V522.8h1.25V530.8ZM304.00 530.8V518.6h1.25V530.8ZM305.25 530.8V515.6h1.25V530.8ZM306.50 530.8V515.2h1.25V530.8ZM307.75 530.8V515.6h1.25V530.8ZM309.00 530.8V517.1h1.25V530.8ZM310.25 530.8V513.7h1.25V530.8ZM311.50 530.8V514.7h1.25V530.8ZM312.75 530.8V516.1h1.25V530.8ZM314.00 530.8V516.3h1.25V530.8ZM315.25 530.8V517.3h1.25V530.8ZM316.50 530.8V515.2h1.25V530.8ZM317.75 530.8V517.7h1.25V530.8ZM319.00 530.8V516.1h1.25V530.8ZM320.25 530.8V517.2h1.25V530.8ZM321.50 530.8V513.8h1.25V530.8ZM322.75 530.8V520.6h1.25V530.8ZM324.00 530.8V524.4h1.25V530.8ZM325.25 530.8V527.8h1.25V530.8ZM326.50 530.8V525.3h1.25V530.8ZM327.75 530.8V524.8h1.25V530.8ZM329.00 530.8V526.0h1.25V530.8ZM330.25 530.8V525.8h1.25V530.8ZM331.50 530.8V525.5h1.25V530.8ZM332.75 530.8V525.3h1.25V530.8ZM334.00 530.8V525.4h1.25V530.8ZM335.25 530.8V523.6h1.25V530.8ZM336.50 530.8V526.2h1.25V530.8ZM337.75 530.8V528.1h1.25V530.8ZM339.00 530.8V524.8h1.25V530.8ZM340.25 530.8V520.0h1.25V530.8ZM341.50 530.8V525.1h1.25V530.8ZM342.75 530.8V525.3h1.25V530.8ZM344.00 530.8V524.5h1.25V530.8ZM345.25 530.8V517.9h1.25V530.8ZM346.50 530.8V511.9h1.25V530.8ZM347.75 530.8V523.4h1.25V530.8ZM349.00 530.8V526.0h1.25V530.8ZM350.25 530.8V524.1h1.25V530.8ZM351.50 530.8V526.8h1.25V530.8ZM352.75 530.8V520.4h1.25V530.8ZM354.00 530.8V525.7h1.25V530.8ZM355.25 530.8V526.4h1.25V530.8ZM356.50 530.8V526.4h1.25V530.8ZM357.75 530.8V524.5h1.25V530.8ZM359.00 530.8V516.9h1.25V530.8ZM360.25 530.8V515.7h1.25V530.8ZM361.50 530.8V517.1h1.25V530.8ZM362.75 530.8V517.1h1.25V530.8ZM364.00 530.8V513.4h1.25V530.8ZM365.25 530.8V509.8h1.25V530.8ZM366.50 530.8V517.3h1.25V530.8ZM367.75 530.8V509.1h1.25V530.8ZM369.00 530.8V516.7h1.25V530.8ZM370.25 530.8V515.5h1.25V530.8ZM371.50 530.8V513.6h1.25V530.8ZM372.75 530.8V514.5h1.25V530.8ZM374.00 530.8V516.5h1.25V530.8ZM375.25 530.8V520.9h1.25V530.8ZM376.50 530.8V521.0h1.25V530.8ZM377.75 530.8V523.4h1.25V530.8ZM379.00 530.8V526.6h1.25V530.8ZM380.25 530.8V520.7h1.25V530.8ZM381.50 530.8V520.5h1.25V530.8ZM382.75 530.8V522.5h1.25V530.8ZM384.00 530.8V523.5h1.25V530.8ZM385.25 530.8V524.0h1.25V530.8ZM386.50 530.8V523.0h1.25V530.8ZM387.75 530.8V520.9h1.25V530.8ZM389.00 530.8V525.3h1.25V530.8ZM390.25 530.8V521.5h1.25V530.8ZM391.50 530.8V523.4h1.25V530.8ZM392.75 530.8V521.4h1.25V530.8ZM394.00 530.8V525.6h1.25V530.8ZM395.25 530.8V526.2h1.25V530.8ZM396.50 530.8V519.6h1.25V530.8ZM397.75 530.8V521.9h1.25V530.8ZM399.00 530.8V524.6h1.25V530.8ZM400.25 530.8V526.8h1.25V530.8ZM401.50 530.8V523.9h1.25V530.8ZM402.75 530.8V524.7h1.25V530.8ZM404.00 530.8V525.0h1.25V530.8ZM405.25 530.8V524.4h1.25V530.8ZM406.50 530.8V525.3h1.25V530.8ZM407.75 530.8V515.3h1.25V530.8ZM409.00 530.8V526.6h1.25V530.8ZM410.25 530.8V525.5h1.25V530.8ZM411.50 530.8V523.3h1.25V530.8ZM412.75 530.8V526.1h1.25V530.8ZM414.00 530.8V525.6h1.25V530.8ZM415.25 530.8V523.1h1.25V530.8ZM416.50 530.8V525.6h1.25V530.8ZM417.75 530.8V522.6h1.25V530.8ZM419.00 530.8V523.6h1.25V530.8ZM420.25 530.8V525.5h1.25V530.8ZM421.50 530.8V523.2h1.25V530.8ZM422.75 530.8V526.8h1.25V530.8ZM424.00 530.8V516.4h1.25V530.8ZM425.25 530.8V520.3h1.25V530.8ZM426.50 530.8V522.7h1.25V530.8ZM427.75 530.8V524.5h1.25V530.8ZM429.00 530.8V520.2h1.25V530.8ZM430.25 530.8V527.2h1.25V530.8ZM431.50 530.8V522.7h1.25V530.8ZM432.75 530.8V524.9h1.25V530.8ZM434.00 530.8V526.1h1.25V530.8ZM435.25 530.8V523.4h1.25V530.8ZM436.50 530.8V523.3h1.25V530.8ZM437.75 530.8V526.0h1.25V530.8ZM439.00 530.8V524.4h1.25V530.8ZM440.25 530.8V521.1h1.25V530.8ZM441.50 530.8V521.2h1.25V530.8ZM442.75 530.8V525.9h1.25V530.8ZM444.00 530.8V516.7h1.25V530.8ZM445.25 530.8V518.4h1.25V530.8ZM446.50 530.8V521.7h1.25V530.8ZM447.75 530.8V525.2h1.25V530.8ZM449.00 530.8V522.2h1.25V530.8ZM450.25 530.8V525.4h1.25V530.8ZM451.50 530.8V518.1h1.25V530.8ZM452.75 530.8V515.9h1.25V530.8ZM454.00 530.8V521.0h1.25V530.8ZM455.25 530.8V522.5h1.25V530.8ZM456.50 530.8V524.0h1.25V530.8ZM457.75 530.8V521.5h1.25V530.8ZM459.00 530.8V527.1h1.25V530.8ZM460.25 530.8V521.4h1.25V530.8ZM461.50 530.8V522.1h1.25V530.8ZM462.75 530.8V524.4h1.25V530.8ZM464.00 530.8V525.2h1.25V530.8ZM465.25 530.8V521.8h1.25V530.8ZM466.50 530.8V524.1h1.25V530.8ZM467.75 530.8V525.7h1.25V530.8ZM469.00 530.8V520.3h1.25V530.8ZM470.25 530.8V520.4h1.25V530.8ZM471.50 530.8V517.4h1.25V530.8ZM472.75 530.8V522.7h1.25V530.8ZM474.00 530.8V523.9h1.25V530.8ZM475.25 530.8V523.5h1.25V530.8ZM476.50 530.8V520.5h1.25V530.8ZM477.75 530.8V521.9h1.25V530.8ZM479.00 530.8V525.5h1.25V530.8ZM480.25 530.8V523.5h1.25V530.8ZM481.50 530.8V521.4h1.25V530.8ZM482.75 530.8V526.7h1.25V530.8ZM484.00 530.8V521.7h1.25V530.8ZM485.25 530.8V521.9h1.25V530.8ZM486.50 530.8V522.8h1.25V530.8ZM487.75 530.8V522.0h1.25V530.8ZM489.00 530.8V522.7h1.25V530.8ZM490.25 530.8V523.8h1.25V530.8ZM491.50 530.8V525.8h1.25V530.8ZM492.75 530.8V526.1h1.25V530.8ZM494.00 530.8V520.4h1.25V530.8ZM495.25 530.8V520.9h1.25V530.8ZM496.50 530.8V521.8h1.25V530.8ZM497.75 530.8V520.3h1.25V530.8ZM499.00 530.8V516.2h1.25V530.8ZM500.25 530.8V523.3h1.25V530.8ZM501.50 530.8V522.4h1.25V530.8ZM502.75 530.8V524.6h1.25V530.8ZM504.00 530.8V520.2h1.25V530.8ZM505.25 530.8V520.0h1.25V530.8ZM506.50 530.8V520.1h1.25V530.8ZM507.75 530.8V519.1h1.25V530.8ZM509.00 530.8V521.6h1.25V530.8ZM510.25 530.8V520.8h1.25V530.8ZM511.50 530.8V516.7h1.25V530.8ZM512.75 530.8V525.1h1.25V530.8ZM514.00 530.8V523.2h1.25V530.8ZM515.25 530.8V514.1h1.25V530.8ZM516.50 530.8V527.1h1.25V530.8ZM517.75 530.8V520.2h1.25V530.8ZM519.00 530.8V526.9h1.25V530.8ZM520.25 530.8V523.7h1.25V530.8ZM521.50 530.8V520.7h1.25V530.8ZM522.75 530.8V523.8h1.25V530.8ZM524.00 530.8V517.1h1.25V530.8ZM525.25 530.8V525.5h1.25V530.8ZM526.50 530.8V514.2h1.25V530.8ZM527.75 530.8V524.9h1.25V530.8ZM529.00 530.8V525.3h1.25V530.8ZM530.25 530.8V526.6h1.25V530.8ZM531.50 530.8V522.6h1.25V530.8ZM532.75 530.8V520.5h1.25V530.8ZM534.00 530.8V527.2h1.25V530.8ZM535.25 530.8V526.7h1.25V530.8ZM536.50 530.8V526.4h1.25V530.8ZM537.75 530.8V522.8h1.25V530.8ZM539.00 530.8V519.1h1.25V530.8ZM540.25 530.8V512.8h1.25V530.8ZM541.50 530.8V514.7h1.25V530.8ZM542.75 530.8V510.0h1.25V530.8ZM544.00 530.8V515.2h1.25V530.8ZM545.25 530.8V512.2h1.25V530.8ZM546.50 530.8V515.9h1.25V530.8ZM547.75 530.8V514.1h1.25V530.8ZM549.00 530.8V513.4h1.25V530.8ZM550.25 530.8V514.4h1.25V530.8ZM551.50 530.8V519.6h1.25V530.8ZM552.75 530.8V525.2h1.25V530.8ZM554.00 530.8V523.0h1.25V530.8ZM555.25 530.8V523.9h1.25V530.8ZM556.50 530.8V525.1h1.25V530.8ZM557.75 530.8V524.9h1.25V530.8ZM559.00 530.8V521.5h1.25V530.8ZM560.25 530.8V523.0h1.25V530.8ZM561.50 530.8V521.7h1.25V530.8ZM562.75 530.8V510.9h1.25V530.8ZM564.00 530.8V509.5h1.25V530.8ZM565.25 530.8V514.4h1.25V530.8ZM566.50 530.8V512.3h1.25V530.8ZM567.75 530.8V516.6h1.25V530.8ZM569.00 530.8V518.2h1.25V530.8ZM570.25 530.8V514.5h1.25V530.8ZM571.50 530.8V515.7h1.25V530.8ZM572.75 530.8V518.7h1.25V530.8ZM574.00 530.8V515.7h1.25V530.8ZM575.25 530.8V510.7h1.25V530.8ZM576.50 530.8V510.8h1.25V530.8ZM577.75 530.8V517.7h1.25V530.8ZM579.00 530.8V517.3h1.25V530.8ZM580.25 530.8V514.9h1.25V530.8ZM581.50 530.8V515.2h1.25V530.8ZM582.75 530.8V514.3h1.25V530.8ZM584.00 530.8V518.2h1.25V530.8ZM585.25 530.8V517.5h1.25V530.8ZM586.50 530.8V511.3h1.25V530.8ZM587.75 530.8V514.6h1.25V530.8ZM589.00 530.8V517.9h1.25V530.8ZM590.25 530.8V516.8h1.25V530.8ZM591.50 530.8V512.9h1.25V530.8ZM592.75 530.8V516.2h1.25V530.8ZM594.00 530.8V509.8h1.25V530.8ZM595.25 530.8V515.2h1.25V530.8ZM596.50 530.8V517.9h1.25V530.8ZM597.75 530.8V518.6h1.25V530.8ZM599.00 530.8V515.2h1.25V530.8ZM600.25 530.8V518.6h1.25V530.8ZM601.50 530.8V517.2h1.25V530.8ZM602.75 530.8V517.3h1.25V530.8ZM604.00 530.8V519.3h1.25V530.8ZM605.25 530.8V519.5h1.25V530.8ZM606.50 530.8V521.5h1.25V530.8ZM607.75 530.8V524.6h1.25V530.8ZM609.00 530.8V521.7h1.25V530.8ZM610.25 530.8V520.3h1.25V530.8ZM611.50 530.8V519.5h1.25V530.8ZM612.75 530.8V524.3h1.25V530.8ZM614.00 530.8V520.0h1.25V530.8ZM615.25 530.8V525.7h1.25V530.8ZM616.50 530.8V518.2h1.25V530.8ZM617.75 530.8V526.6h1.25V530.8ZM619.00 530.8V525.8h1.25V530.8ZM620.25 530.8V519.7h1.25V530.8ZM621.50 530.8V525.6h1.25V530.8ZM622.75 530.8V521.8h1.25V530.8ZM624.00 530.8V528.3h1.25V530.8ZM625.25 530.8V528.0h1.25V530.8ZM626.50 530.8V528.0h1.25V530.8ZM627.75 530.8V527.3h1.25V530.8ZM629.00 530.8V527.8h1.25V530.8ZM630.25 530.8V523.4h1.25V530.8ZM631.50 530.8V507.9h1.25V530.8ZM632.75 530.8V515.9h1.25V530.8ZM634.00 530.8V510.1h1.25V530.8ZM635.25 530.8V513.6h1.25V530.8ZM636.50 530.8V516.9h1.25V530.8ZM637.75 530.8V514.3h1.25V530.8ZM639.00 530.8V517.0h1.25V530.8ZM640.25 530.8V509.4h1.25V530.8ZM641.50 530.8V512.2h1.25V530.8ZM642.75 530.8V515.1h1.25V530.8ZM644.00 530.8V526.5h1.25V530.8ZM645.25 530.8V527.2h1.25V530.8ZM646.50 530.8V526.9h1.25V530.8ZM647.75 530.8V527.2h1.25V530.8ZM649.00 530.8V525.6h1.25V530.8ZM650.25 530.8V525.3h1.25V530.8ZM651.50 530.8V526.8h1.25V530.8ZM652.75 530.8V524.8h1.25V530.8ZM654.00 530.8V525.9h1.25V530.8ZM655.25 530.8V517.3h1.25V530.8ZM656.50 530.8V515.3h1.25V530.8ZM657.75 530.8V514.8h1.25V530.8ZM659.00 530.8V515.5h1.25V530.8ZM660.25 530.8V511.6h1.25V530.8ZM661.50 530.8V527.9h1.25V530.8ZM662.75 530.8V526.7h1.25V530.8ZM664.00 530.8V526.5h1.25V530.8ZM665.25 530.8V526.7h1.25V530.8ZM666.50 530.8V525.1h1.25V530.8ZM667.75 530.8V522.0h1.25V530.8ZM669.00 530.8V525.2h1.25V530.8ZM670.25 530.8V518.4h1.25V530.8ZM671.50 530.8V523.3h1.25V530.8ZM672.75 530.8V524.0h1.25V530.8ZM674.00 530.8V512.8h1.25V530.8ZM675.25 530.8V508.8h1.25V530.8ZM676.50 530.8V515.4h1.25V530.8ZM677.75 530.8V515.8h1.25V530.8ZM679.00 530.8V513.4h1.25V530.8ZM680.25 530.8V514.6h1.25V530.8ZM681.50 530.8V509.1h1.25V530.8ZM682.75 530.8V501.6h1.25V530.8ZM684.00 530.8V497.0h1.25V530.8ZM685.25 530.8V495.3h1.25V530.8ZM686.50 530.8V499.3h1.25V530.8ZM687.75 530.8V491.5h1.25V530.8ZM689.00 530.8V500.1h1.25V530.8ZM690.25 530.8V501.0h1.25V530.8ZM691.50 530.8V515.6h1.25V530.8ZM692.75 530.8V513.5h1.25V530.8ZM694.00 530.8V516.1h1.25V530.8ZM695.25 530.8V517.2h1.25V530.8ZM696.50 530.8V517.5h1.25V530.8ZM697.75 530.8V515.3h1.25V530.8ZM699.00 530.8V521.7h1.25V530.8ZM700.25 530.8V515.1h1.25V530.8ZM701.50 530.8V516.6h1.25V530.8ZM702.75 530.8V515.7h1.25V530.8ZM704.00 530.8V513.7h1.25V530.8ZM705.25 530.8V513.5h1.25V530.8ZM706.50 530.8V509.4h1.25V530.8ZM707.75 530.8V505.4h1.25V530.8ZM709.00 530.8V513.7h1.25V530.8ZM710.25 530.8V508.7h1.25V530.8ZM711.50 530.8V502.9h1.25V530.8ZM712.75 530.8V503.3h1.25V530.8ZM714.00 530.8V501.1h1.25V530.8ZM715.25 530.8V499.0h1.25V530.8ZM716.50 530.8V492.6h1.25V530.8ZM717.75 530.8V481.3h1.25V530.8ZM719.00 530.8V454.2h1.25V530.8Z" fill="#000"/>
<rect x="253.5" y="625.6" width="2" height="19" fill="#ff0000"/>
<rect x="318.5" y="625.6" width="2" height="19" fill="#ff0000"/>
<rect x="327.8" y="625.6" width="2" height="19" fill="#ff0000"/>
<rect x="366.4" y="625.6" width="2" height="19" fill="#ff0000"/>
<rect x="418.6" y="625.6" width="2" height="19" fill="#ff0000"/>
<rect x="452.0" y="625.6" width="2" height="19" fill="#ff0000"/>
<rect x="495.7" y="625.6" width="2" height="19" fill="#ff0000"/>
<rect x="499.2" y="625.6" width="2" height="19" fill="#ff0000"/>
<rect x="663.5" y="625.6" width="2" height="19" fill="#ff0000"/>
<rect x="705.8" y="625.6" width="2" height="19" fill="#ff0000"/>
</svg></body></html>
